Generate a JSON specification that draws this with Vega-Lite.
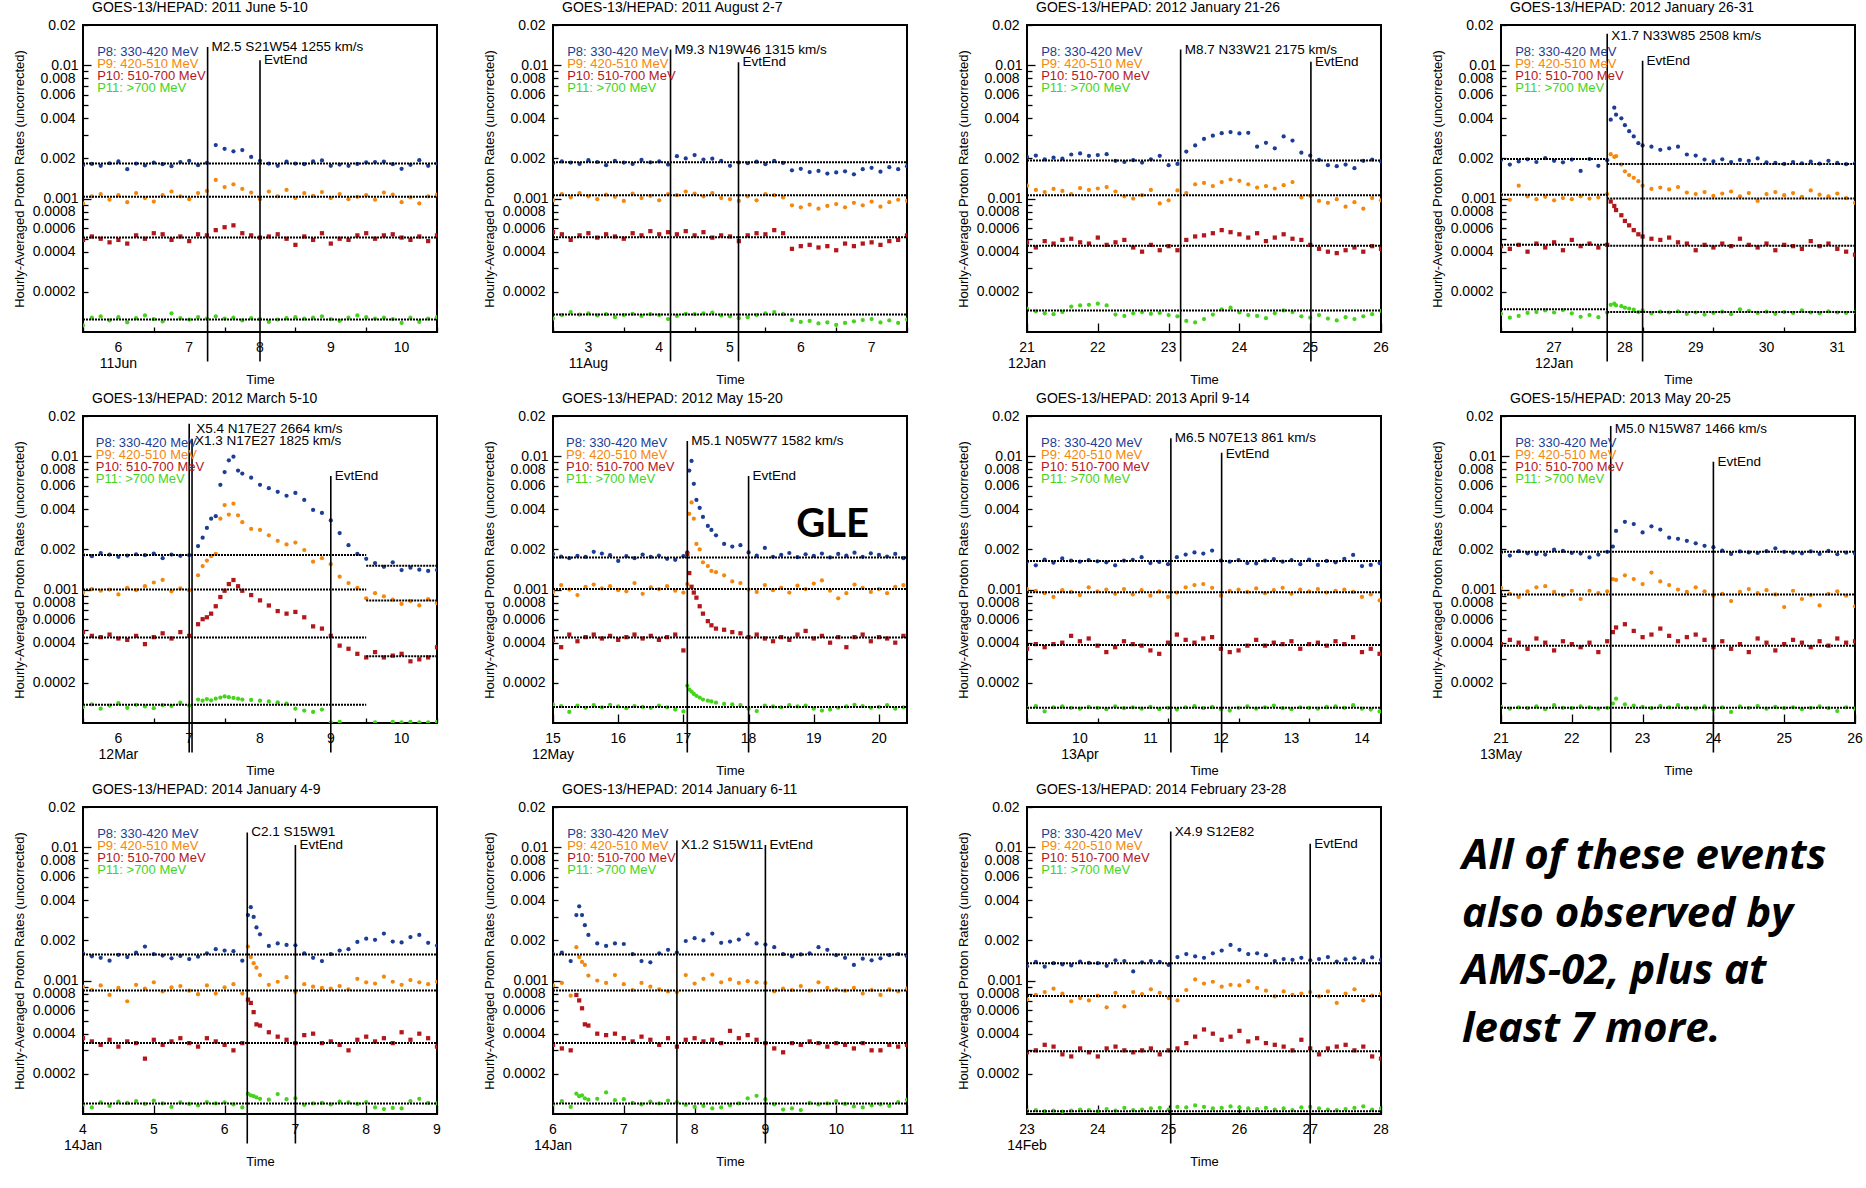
{
"$schema": "https://vega.github.io/schema/vega-lite/v6.json",
"padding": {"left": 12, "top": 0, "right": 0, "bottom": 0},
"background": "white",
"columns": 4,
"spacing": {"row": 3, "column": 40},
"datasets": {
"leg": [{"s":"P8","lab":"P8: 330-420 MeV"},{"s":"P9","lab":"P9: 420-510 MeV"},{"s":"P10","lab":"P10: 510-700 MeV"},{"s":"P11","lab":"P11: >700 MeV"}],
"xl": [
{"p":1,"t":6,"d":"6","m":"11Jun"},{"p":1,"t":7,"d":"7","m":""},{"p":1,"t":8,"d":"8","m":""},{"p":1,"t":9,"d":"9","m":""},{"p":1,"t":10,"d":"10","m":""},
{"p":2,"t":3,"d":"3","m":"11Aug"},{"p":2,"t":4,"d":"4","m":""},{"p":2,"t":5,"d":"5","m":""},{"p":2,"t":6,"d":"6","m":""},{"p":2,"t":7,"d":"7","m":""},
{"p":3,"t":21,"d":"21","m":"12Jan"},{"p":3,"t":22,"d":"22","m":""},{"p":3,"t":23,"d":"23","m":""},{"p":3,"t":24,"d":"24","m":""},{"p":3,"t":25,"d":"25","m":""},{"p":3,"t":26,"d":"26","m":""},
{"p":4,"t":27,"d":"27","m":"12Jan"},{"p":4,"t":28,"d":"28","m":""},{"p":4,"t":29,"d":"29","m":""},{"p":4,"t":30,"d":"30","m":""},{"p":4,"t":31,"d":"31","m":""},
{"p":5,"t":6,"d":"6","m":"12Mar"},{"p":5,"t":7,"d":"7","m":""},{"p":5,"t":8,"d":"8","m":""},{"p":5,"t":9,"d":"9","m":""},{"p":5,"t":10,"d":"10","m":""},
{"p":6,"t":15,"d":"15","m":"12May"},{"p":6,"t":16,"d":"16","m":""},{"p":6,"t":17,"d":"17","m":""},{"p":6,"t":18,"d":"18","m":""},{"p":6,"t":19,"d":"19","m":""},{"p":6,"t":20,"d":"20","m":""},
{"p":7,"t":10,"d":"10","m":"13Apr"},{"p":7,"t":11,"d":"11","m":""},{"p":7,"t":12,"d":"12","m":""},{"p":7,"t":13,"d":"13","m":""},{"p":7,"t":14,"d":"14","m":""},
{"p":8,"t":21,"d":"21","m":"13May"},{"p":8,"t":22,"d":"22","m":""},{"p":8,"t":23,"d":"23","m":""},{"p":8,"t":24,"d":"24","m":""},{"p":8,"t":25,"d":"25","m":""},{"p":8,"t":26,"d":"26","m":""},
{"p":9,"t":4,"d":"4","m":"14Jan"},{"p":9,"t":5,"d":"5","m":""},{"p":9,"t":6,"d":"6","m":""},{"p":9,"t":7,"d":"7","m":""},{"p":9,"t":8,"d":"8","m":""},{"p":9,"t":9,"d":"9","m":""},
{"p":10,"t":6,"d":"6","m":"14Jan"},{"p":10,"t":7,"d":"7","m":""},{"p":10,"t":8,"d":"8","m":""},{"p":10,"t":9,"d":"9","m":""},{"p":10,"t":10,"d":"10","m":""},{"p":10,"t":11,"d":"11","m":""},
{"p":11,"t":23,"d":"23","m":"14Feb"},{"p":11,"t":24,"d":"24","m":""},{"p":11,"t":25,"d":"25","m":""},{"p":11,"t":26,"d":"26","m":""},{"p":11,"t":27,"d":"27","m":""},{"p":11,"t":28,"d":"28","m":""}],
"ev": [{"p":1,"k":"s","t":7.26,"lab":"M2.5 S21W54 1255 km/s"},{"p":1,"k":"e","t":8.0,"lab":"EvtEnd"},
{"p":2,"k":"s","t":4.16,"lab":"M9.3 N19W46 1315 km/s"},{"p":2,"k":"e","t":5.12,"lab":"EvtEnd"},
{"p":3,"k":"s","t":23.17,"lab":"M8.7 N33W21 2175 km/s"},{"p":3,"k":"e","t":25.01,"lab":"EvtEnd"},
{"p":4,"k":"s","t":27.75,"lab":"X1.7 N33W85 2508 km/s"},{"p":4,"k":"e","t":28.25,"lab":"EvtEnd"},
{"p":5,"k":"s","t":7.0,"lab":"X5.4 N17E27 2664 km/s"},{"p":5,"k":"s2","t":7.04,"lab":"X1.3 N17E27 1825 km/s"},{"p":5,"k":"e","t":9.0,"lab":"EvtEnd"},
{"p":6,"k":"s","t":17.06,"lab":"M5.1 N05W77  1582 km/s"},{"p":6,"k":"e","t":18.0,"lab":"EvtEnd"},
{"p":7,"k":"s","t":11.29,"lab":"M6.5 N07E13  861 km/s"},{"p":7,"k":"e","t":12.01,"lab":"EvtEnd"},
{"p":8,"k":"s","t":22.55,"lab":"M5.0 N15W87 1466 km/s"},{"p":8,"k":"e","t":24.0,"lab":"EvtEnd"},
{"p":9,"k":"s","t":6.32,"lab":"C2.1 S15W91"},{"p":9,"k":"e","t":7.0,"lab":"EvtEnd"},
{"p":10,"k":"s","t":7.75,"lab":"X1.2 S15W11"},{"p":10,"k":"e","t":9.0,"lab":"EvtEnd"},
{"p":11,"k":"s","t":25.03,"lab":"X4.9 S12E82"},{"p":11,"k":"e","t":27.0,"lab":"EvtEnd"}],
"base": [
{"p":1,"t0":5.5,"t1":10.5,"v":0.00183},{"p":1,"t0":5.5,"t1":10.5,"v":0.00103},{"p":1,"t0":5.5,"t1":10.5,"v":0.00051},{"p":1,"t0":5.5,"t1":10.5,"v":0.000124},
{"p":2,"t0":2.5,"t1":7.5,"v":0.00187},{"p":2,"t0":2.5,"t1":7.5,"v":0.00106},{"p":2,"t0":2.5,"t1":7.5,"v":0.000514},{"p":2,"t0":2.5,"t1":7.5,"v":0.000135},
{"p":3,"t0":21,"t1":26,"v":0.00193},{"p":3,"t0":21,"t1":26,"v":0.00106},{"p":3,"t0":21,"t1":26,"v":0.000444},{"p":3,"t0":21,"t1":26,"v":0.000145},
{"p":4,"t0":26.25,"t1":27.75,"v":0.00198},{"p":4,"t0":26.25,"t1":27.75,"v":0.00107},{"p":4,"t0":26.25,"t1":27.75,"v":0.00045},{"p":4,"t0":26.25,"t1":27.75,"v":0.000148},
{"p":4,"t0":27.75,"t1":31.25,"v":0.00182},{"p":4,"t0":27.75,"t1":31.25,"v":0.001},{"p":4,"t0":27.75,"t1":31.25,"v":0.000443},{"p":4,"t0":27.75,"t1":31.25,"v":0.000141},
{"p":5,"t0":5.5,"t1":9.5,"v":0.00182},{"p":5,"t0":5.5,"t1":9.5,"v":0.001},{"p":5,"t0":5.5,"t1":9.5,"v":0.000437},{"p":5,"t0":5.5,"t1":9.5,"v":0.000137},
{"p":5,"t0":9.5,"t1":10.5,"v":0.00151},{"p":5,"t0":9.5,"t1":10.5,"v":0.000828},{"p":5,"t0":9.5,"t1":10.5,"v":0.000316},
{"p":6,"t0":15,"t1":20.43,"v":0.00174},{"p":6,"t0":15,"t1":20.43,"v":0.00101},{"p":6,"t0":15,"t1":20.43,"v":0.000437},{"p":6,"t0":15,"t1":20.43,"v":0.000132},
{"p":7,"t0":9.25,"t1":14.27,"v":0.00164},{"p":7,"t0":9.25,"t1":14.27,"v":0.000955},{"p":7,"t0":9.25,"t1":14.27,"v":0.000384},{"p":7,"t0":9.25,"t1":14.27,"v":0.00013},
{"p":8,"t0":21,"t1":26,"v":0.00192},{"p":8,"t0":21,"t1":26,"v":0.00092},{"p":8,"t0":21,"t1":26,"v":0.00038},{"p":8,"t0":21,"t1":26,"v":0.00013},
{"p":9,"t0":4,"t1":9,"v":0.00157},{"p":9,"t0":4,"t1":9,"v":0.000842},{"p":9,"t0":4,"t1":9,"v":0.000341},{"p":9,"t0":4,"t1":9,"v":0.00012},
{"p":10,"t0":6,"t1":11,"v":0.00157},{"p":10,"t0":6,"t1":11,"v":0.000842},{"p":10,"t0":6,"t1":11,"v":0.000341},{"p":10,"t0":6,"t1":11,"v":0.00012},
{"p":11,"t0":23,"t1":28,"v":0.00135},{"p":11,"t0":23,"t1":28,"v":0.000765},{"p":11,"t0":23,"t1":28,"v":0.000295},{"p":11,"t0":23,"t1":28,"v":0.000105}],
"pts": [
{"p":1,"t":5.5,"P8":0.00178,"P9":0.00092,"P10":0.00049,"P11":0.000112},
{"p":1,"t":5.625,"P8":0.00182,"P9":0.00104,"P10":0.00052,"P11":0.000128},
{"p":1,"t":5.75,"P8":0.00176,"P9":0.00108,"P10":0.0005,"P11":0.000131},
{"p":1,"t":5.875,"P8":0.00184,"P9":0.00098,"P10":0.00047,"P11":0.000122},
{"p":1,"t":6,"P8":0.0019,"P9":0.00106,"P10":0.00049,"P11":0.000129},
{"p":1,"t":6.125,"P8":0.00166,"P9":0.00094,"P10":0.00046,"P11":0.000118},
{"p":1,"t":6.25,"P8":0.00183,"P9":0.0011,"P10":0.00053,"P11":0.000127},
{"p":1,"t":6.375,"P8":0.00177,"P9":0.00101,"P10":0.0005,"P11":0.000133},
{"p":1,"t":6.5,"P8":0.00186,"P9":0.00095,"P10":0.00055,"P11":0.000125},
{"p":1,"t":6.625,"P8":0.00181,"P9":0.00106,"P10":0.00054,"P11":0.00012},
{"p":1,"t":6.75,"P8":0.00175,"P9":0.00113,"P10":0.00049,"P11":0.000138},
{"p":1,"t":6.875,"P8":0.00188,"P9":0.00104,"P10":0.00052,"P11":0.000127},
{"p":1,"t":7,"P8":0.00192,"P9":0.00099,"P10":0.00048,"P11":0.000124},
{"p":1,"t":7.125,"P8":0.00178,"P9":0.0011,"P10":0.00054,"P11":0.000129},
{"p":1,"t":7.25,"P8":0.00185,"P9":0.00114,"P10":0.00053,"P11":0.000126},
{"p":1,"t":7.375,"P8":0.00252,"P9":0.00138,"P10":0.00058,"P11":0.000131},
{"p":1,"t":7.5,"P8":0.00236,"P9":0.00122,"P10":0.00061,"P11":0.000126},
{"p":1,"t":7.625,"P8":0.00226,"P9":0.00128,"P10":0.00063,"P11":0.000128},
{"p":1,"t":7.75,"P8":0.00231,"P9":0.00118,"P10":0.00055,"P11":0.000122},
{"p":1,"t":7.875,"P8":0.00205,"P9":0.00111,"P10":0.00053,"P11":0.000127},
{"p":1,"t":8,"P8":0.00192,"P9":0.00099,"P10":0.00051,"P11":0.000125},
{"p":1,"t":8.125,"P8":0.00183,"P9":0.00113,"P10":0.00052,"P11":0.000119},
{"p":1,"t":8.25,"P8":0.00176,"P9":0.00104,"P10":0.00054,"P11":0.000124},
{"p":1,"t":8.375,"P8":0.00189,"P9":0.00116,"P10":0.0005,"P11":0.000127},
{"p":1,"t":8.5,"P8":0.00183,"P9":0.00101,"P10":0.00045,"P11":0.000129},
{"p":1,"t":8.625,"P8":0.00181,"P9":0.0011,"P10":0.00052,"P11":0.000126},
{"p":1,"t":8.75,"P8":0.0019,"P9":0.00105,"P10":0.00049,"P11":0.000128},
{"p":1,"t":8.875,"P8":0.00193,"P9":0.00112,"P10":0.00055,"P11":0.000131},
{"p":1,"t":9,"P8":0.00176,"P9":0.00101,"P10":0.00046,"P11":0.000125},
{"p":1,"t":9.125,"P8":0.0018,"P9":0.00108,"P10":0.0005,"P11":0.000121},
{"p":1,"t":9.25,"P8":0.00176,"P9":0.00099,"P10":0.00049,"P11":0.000128},
{"p":1,"t":9.375,"P8":0.00182,"P9":0.00103,"P10":0.00053,"P11":0.000133},
{"p":1,"t":9.5,"P8":0.00187,"P9":0.00106,"P10":0.00055,"P11":0.000129},
{"p":1,"t":9.625,"P8":0.00188,"P9":0.00098,"P10":0.0005,"P11":0.000126},
{"p":1,"t":9.75,"P8":0.00189,"P9":0.00111,"P10":0.00053,"P11":0.000128},
{"p":1,"t":9.875,"P8":0.00181,"P9":0.00107,"P10":0.00054,"P11":0.000125},
{"p":1,"t":10,"P8":0.00167,"P9":0.00094,"P10":0.00051,"P11":0.000117},
{"p":1,"t":10.125,"P8":0.00179,"P9":0.00102,"P10":0.00049,"P11":0.000128},
{"p":1,"t":10.25,"P8":0.00194,"P9":0.00092,"P10":0.00052,"P11":0.000119},
{"p":1,"t":10.375,"P8":0.00176,"P9":0.00104,"P10":0.00048,"P11":0.000126},
{"p":1,"t":10.5,"P8":0.00183,"P9":0.00107,"P10":0.00053,"P11":0.000129},
{"p":2,"t":2.5,"P8":0.00184,"P9":0.00097,"P10":0.00056,"P11":0.000126},
{"p":2,"t":2.625,"P8":0.0019,"P9":0.00108,"P10":0.00054,"P11":0.000134},
{"p":2,"t":2.75,"P8":0.00186,"P9":0.00102,"P10":0.00049,"P11":0.000141},
{"p":2,"t":2.875,"P8":0.00182,"P9":0.0011,"P10":0.00053,"P11":0.000135},
{"p":2,"t":3,"P8":0.00194,"P9":0.00104,"P10":0.00055,"P11":0.000138},
{"p":2,"t":3.125,"P8":0.00188,"P9":0.00099,"P10":0.00051,"P11":0.000133},
{"p":2,"t":3.25,"P8":0.00178,"P9":0.00107,"P10":0.00054,"P11":0.000136},
{"p":2,"t":3.375,"P8":0.00192,"P9":0.00103,"P10":0.00052,"P11":0.000129},
{"p":2,"t":3.5,"P8":0.00186,"P9":0.00096,"P10":0.0005,"P11":0.000134},
{"p":2,"t":3.625,"P8":0.00182,"P9":0.00109,"P10":0.00055,"P11":0.000137},
{"p":2,"t":3.75,"P8":0.00195,"P9":0.00101,"P10":0.00053,"P11":0.000132},
{"p":2,"t":3.875,"P8":0.00187,"P9":0.00105,"P10":0.00057,"P11":0.000136},
{"p":2,"t":4,"P8":0.0019,"P9":0.00097,"P10":0.00054,"P11":0.000134},
{"p":2,"t":4.125,"P8":0.0018,"P9":0.00108,"P10":0.00056,"P11":0.000125},
{"p":2,"t":4.25,"P8":0.00208,"P9":0.00106,"P10":0.00054,"P11":0.000132},
{"p":2,"t":4.375,"P8":0.002,"P9":0.00113,"P10":0.00057,"P11":0.000137},
{"p":2,"t":4.5,"P8":0.00212,"P9":0.00109,"P10":0.00053,"P11":0.000136},
{"p":2,"t":4.625,"P8":0.00196,"P9":0.00104,"P10":0.00056,"P11":0.000138},
{"p":2,"t":4.75,"P8":0.00199,"P9":0.0011,"P10":0.00051,"P11":0.00014},
{"p":2,"t":4.875,"P8":0.00192,"P9":0.00101,"P10":0.00053,"P11":0.000133},
{"p":2,"t":5,"P8":0.00176,"P9":0.00099,"P10":0.00052,"P11":0.000131},
{"p":2,"t":5.125,"P8":0.00186,"P9":0.00096,"P10":0.00048,"P11":0.000127},
{"p":2,"t":5.25,"P8":0.00184,"P9":0.00104,"P10":0.00053,"P11":0.000129},
{"p":2,"t":5.375,"P8":0.00189,"P9":0.00097,"P10":0.00055,"P11":0.000134},
{"p":2,"t":5.5,"P8":0.00181,"P9":0.00108,"P10":0.00054,"P11":0.000138},
{"p":2,"t":5.625,"P8":0.00192,"P9":0.00106,"P10":0.00058,"P11":0.000141},
{"p":2,"t":5.75,"P8":0.00185,"P9":0.00102,"P10":0.00055,"P11":0.000136},
{"p":2,"t":5.875,"P8":0.00163,"P9":0.00089,"P10":0.00042,"P11":0.000123},
{"p":2,"t":6,"P8":0.00167,"P9":0.00086,"P10":0.00044,"P11":0.000119},
{"p":2,"t":6.125,"P8":0.00158,"P9":0.0009,"P10":0.00045,"P11":0.000121},
{"p":2,"t":6.25,"P8":0.00161,"P9":0.00084,"P10":0.00043,"P11":0.000116},
{"p":2,"t":6.375,"P8":0.00154,"P9":0.00088,"P10":0.00044,"P11":0.000118},
{"p":2,"t":6.5,"P8":0.00157,"P9":0.00091,"P10":0.00041,"P11":0.000113},
{"p":2,"t":6.625,"P8":0.0016,"P9":0.00086,"P10":0.00046,"P11":0.000117},
{"p":2,"t":6.75,"P8":0.00152,"P9":0.00093,"P10":0.00044,"P11":0.00012},
{"p":2,"t":6.875,"P8":0.00166,"P9":0.00089,"P10":0.00046,"P11":0.000123},
{"p":2,"t":7,"P8":0.0017,"P9":0.00095,"P10":0.00047,"P11":0.000125},
{"p":2,"t":7.125,"P8":0.00159,"P9":0.00087,"P10":0.00045,"P11":0.000118},
{"p":2,"t":7.25,"P8":0.00172,"P9":0.00094,"P10":0.00048,"P11":0.000122},
{"p":2,"t":7.375,"P8":0.00166,"P9":0.00098,"P10":0.00049,"P11":0.000117},
{"p":2,"t":7.5,"P8":0.00175,"P9":0.00096,"P10":0.00053,"P11":0.000124},
{"p":3,"t":21,"P8":0.00205,"P9":0.00125,"P10":0.00047,"P11":0.00015},
{"p":3,"t":21.125,"P8":0.0021,"P9":0.00116,"P10":0.00043,"P11":0.000143},
{"p":3,"t":21.25,"P8":0.00197,"P9":0.00112,"P10":0.00048,"P11":0.000138},
{"p":3,"t":21.375,"P8":0.00203,"P9":0.00118,"P10":0.00046,"P11":0.000136},
{"p":3,"t":21.5,"P8":0.00199,"P9":0.00114,"P10":0.00049,"P11":0.000141},
{"p":3,"t":21.625,"P8":0.00214,"P9":0.00108,"P10":0.0005,"P11":0.000155},
{"p":3,"t":21.75,"P8":0.00218,"P9":0.0012,"P10":0.00047,"P11":0.000158},
{"p":3,"t":21.875,"P8":0.00209,"P9":0.00116,"P10":0.00046,"P11":0.00016},
{"p":3,"t":22,"P8":0.00212,"P9":0.00119,"P10":0.00051,"P11":0.000163},
{"p":3,"t":22.125,"P8":0.00215,"P9":0.00122,"P10":0.00045,"P11":0.000158},
{"p":3,"t":22.25,"P8":0.00192,"P9":0.00113,"P10":0.00047,"P11":0.000135},
{"p":3,"t":22.375,"P8":0.00188,"P9":0.00104,"P10":0.00049,"P11":0.000132},
{"p":3,"t":22.5,"P8":0.00194,"P9":0.001,"P10":0.00043,"P11":0.000138},
{"p":3,"t":22.625,"P8":0.00186,"P9":0.00106,"P10":0.0004,"P11":0.000141},
{"p":3,"t":22.75,"P8":0.00197,"P9":0.00116,"P10":0.00045,"P11":0.000137},
{"p":3,"t":22.875,"P8":0.00209,"P9":0.00092,"P10":0.00041,"P11":0.000139},
{"p":3,"t":23,"P8":0.00178,"P9":0.00097,"P10":0.00044,"P11":0.000134},
{"p":3,"t":23.125,"P8":0.00182,"P9":0.00115,"P10":0.00041,"P11":0.000131},
{"p":3,"t":23.25,"P8":0.00225,"P9":0.0011,"P10":0.00049,"P11":0.000121},
{"p":3,"t":23.375,"P8":0.0025,"P9":0.00128,"P10":0.00052,"P11":0.000118},
{"p":3,"t":23.5,"P8":0.0028,"P9":0.00131,"P10":0.00053,"P11":0.000125},
{"p":3,"t":23.625,"P8":0.00296,"P9":0.00124,"P10":0.00055,"P11":0.000135},
{"p":3,"t":23.75,"P8":0.00309,"P9":0.00133,"P10":0.00058,"P11":0.000148},
{"p":3,"t":23.875,"P8":0.00315,"P9":0.00139,"P10":0.00056,"P11":0.000152},
{"p":3,"t":24,"P8":0.00308,"P9":0.00136,"P10":0.00054,"P11":0.00014},
{"p":3,"t":24.125,"P8":0.00311,"P9":0.00128,"P10":0.00051,"P11":0.000134},
{"p":3,"t":24.25,"P8":0.00245,"P9":0.00121,"P10":0.00055,"P11":0.000132},
{"p":3,"t":24.375,"P8":0.00262,"P9":0.00124,"P10":0.00048,"P11":0.000127},
{"p":3,"t":24.5,"P8":0.00238,"P9":0.00119,"P10":0.00051,"P11":0.000138},
{"p":3,"t":24.625,"P8":0.00292,"P9":0.00126,"P10":0.00054,"P11":0.000145},
{"p":3,"t":24.75,"P8":0.00272,"P9":0.00133,"P10":0.0005,"P11":0.000141},
{"p":3,"t":24.875,"P8":0.00221,"P9":0.00102,"P10":0.00049,"P11":0.000131},
{"p":3,"t":25,"P8":0.0021,"P9":0.00105,"P10":0.00045,"P11":0.000128},
{"p":3,"t":25.125,"P8":0.00195,"P9":0.00096,"P10":0.00042,"P11":0.000134},
{"p":3,"t":25.25,"P8":0.00178,"P9":0.00093,"P10":0.0004,"P11":0.000126},
{"p":3,"t":25.375,"P8":0.00175,"P9":0.00099,"P10":0.00039,"P11":0.000122},
{"p":3,"t":25.5,"P8":0.0018,"P9":0.00087,"P10":0.00041,"P11":0.000129},
{"p":3,"t":25.625,"P8":0.00169,"P9":0.00094,"P10":0.00043,"P11":0.000125},
{"p":3,"t":25.75,"P8":0.00192,"P9":0.00084,"P10":0.0004,"P11":0.000131},
{"p":3,"t":25.875,"P8":0.00196,"P9":0.00101,"P10":0.00044,"P11":0.000136},
{"p":3,"t":26,"P8":0.0019,"P9":0.00097,"P10":0.00042,"P11":0.000144},
{"p":4,"t":26.25,"P8":0.00195,"P9":0.00107,"P10":0.00044,"P11":0.000137},
{"p":4,"t":26.375,"P8":0.0018,"P9":0.00098,"P10":0.00042,"P11":0.000128},
{"p":4,"t":26.5,"P8":0.0019,"P9":0.00125,"P10":0.00045,"P11":0.000132},
{"p":4,"t":26.625,"P8":0.00197,"P9":0.00104,"P10":0.0004,"P11":0.000139},
{"p":4,"t":26.75,"P8":0.00188,"P9":0.00099,"P10":0.00046,"P11":0.000141},
{"p":4,"t":26.875,"P8":0.00201,"P9":0.00103,"P10":0.00043,"P11":0.000145},
{"p":4,"t":27,"P8":0.00192,"P9":0.00097,"P10":0.00047,"P11":0.00014},
{"p":4,"t":27.125,"P8":0.00187,"P9":0.00101,"P10":0.00041,"P11":0.000146},
{"p":4,"t":27.25,"P8":0.00196,"P9":0.00099,"P10":0.00049,"P11":0.000138},
{"p":4,"t":27.375,"P8":0.00161,"P9":0.00104,"P10":0.00044,"P11":0.00013},
{"p":4,"t":27.5,"P8":0.00198,"P9":0.001,"P10":0.00046,"P11":0.000134},
{"p":4,"t":27.625,"P8":0.00176,"P9":0.00102,"P10":0.00043,"P11":0.000129},
{"p":4,"t":27.75,"P8":0.00194,"P9":0.00108,"P10":0.00045,"P11":0.00014},
{"p":4,"t":27.8,"P8":0.0039,"P9":0.00215,"P10":0.00095,"P11":0.00016},
{"p":4,"t":27.85,"P8":0.0048,"P9":0.00205,"P10":0.00088,"P11":0.000163},
{"p":4,"t":27.875,"P8":0.00425,"P9":0.00208,"P10":0.00082,"P11":0.000158},
{"p":4,"t":27.95,"P8":0.004,"P9":0.0018,"P10":0.00075,"P11":0.000156},
{"p":4,"t":28,"P8":0.00355,"P9":0.0016,"P10":0.00068,"P11":0.000152},
{"p":4,"t":28.06,"P8":0.0032,"P9":0.0015,"P10":0.00063,"P11":0.00015},
{"p":4,"t":28.125,"P8":0.00292,"P9":0.00143,"P10":0.00058,"P11":0.000147},
{"p":4,"t":28.19,"P8":0.0026,"P9":0.00135,"P10":0.00054,"P11":0.000141},
{"p":4,"t":28.25,"P8":0.0025,"P9":0.00125,"P10":0.00052,"P11":0.000145},
{"p":4,"t":28.375,"P8":0.00245,"P9":0.00118,"P10":0.0005,"P11":0.000138},
{"p":4,"t":28.5,"P8":0.00232,"P9":0.00121,"P10":0.00049,"P11":0.000142},
{"p":4,"t":28.625,"P8":0.00238,"P9":0.00117,"P10":0.00051,"P11":0.00014},
{"p":4,"t":28.75,"P8":0.00245,"P9":0.00122,"P10":0.00047,"P11":0.000143},
{"p":4,"t":28.875,"P8":0.00214,"P9":0.00111,"P10":0.00046,"P11":0.000137},
{"p":4,"t":29,"P8":0.0021,"P9":0.00108,"P10":0.00041,"P11":0.00014},
{"p":4,"t":29.125,"P8":0.00196,"P9":0.00112,"P10":0.00045,"P11":0.000135},
{"p":4,"t":29.25,"P8":0.0019,"P9":0.00105,"P10":0.00043,"P11":0.000139},
{"p":4,"t":29.375,"P8":0.00197,"P9":0.00109,"P10":0.00046,"P11":0.000142},
{"p":4,"t":29.5,"P8":0.00188,"P9":0.00113,"P10":0.00044,"P11":0.000136},
{"p":4,"t":29.625,"P8":0.00195,"P9":0.00104,"P10":0.0005,"P11":0.000148},
{"p":4,"t":29.75,"P8":0.00192,"P9":0.0011,"P10":0.00045,"P11":0.000144},
{"p":4,"t":29.875,"P8":0.002,"P9":0.00096,"P10":0.00043,"P11":0.000139},
{"p":4,"t":30,"P8":0.00187,"P9":0.00108,"P10":0.00046,"P11":0.000142},
{"p":4,"t":30.125,"P8":0.00185,"P9":0.00112,"P10":0.00041,"P11":0.000137},
{"p":4,"t":30.25,"P8":0.00182,"P9":0.00106,"P10":0.00045,"P11":0.000141},
{"p":4,"t":30.375,"P8":0.00188,"P9":0.0011,"P10":0.00044,"P11":0.000139},
{"p":4,"t":30.5,"P8":0.00184,"P9":0.00103,"P10":0.00042,"P11":0.000145},
{"p":4,"t":30.625,"P8":0.00189,"P9":0.00115,"P10":0.00048,"P11":0.00014},
{"p":4,"t":30.75,"P8":0.00183,"P9":0.00107,"P10":0.00044,"P11":0.000138},
{"p":4,"t":30.875,"P8":0.00192,"P9":0.00104,"P10":0.00046,"P11":0.000143},
{"p":4,"t":31,"P8":0.00185,"P9":0.00109,"P10":0.00042,"P11":0.00014},
{"p":4,"t":31.125,"P8":0.00181,"P9":0.00101,"P10":0.0004,"P11":0.000139},
{"p":4,"t":31.25,"P8":0.00184,"P9":0.00093,"P10":0.00038,"P11":0.000141},
{"p":5,"t":5.5,"P8":0.00182,"P9":0.00095,"P10":0.00048,"P11":0.000132},
{"p":5,"t":5.625,"P8":0.00178,"P9":0.00101,"P10":0.00045,"P11":0.000138},
{"p":5,"t":5.75,"P8":0.00188,"P9":0.00098,"P10":0.00044,"P11":0.000128},
{"p":5,"t":5.875,"P8":0.00183,"P9":0.001,"P10":0.00046,"P11":0.000135},
{"p":5,"t":6,"P8":0.00176,"P9":0.00092,"P10":0.00043,"P11":0.000141},
{"p":5,"t":6.125,"P8":0.0018,"P9":0.00103,"P10":0.00042,"P11":0.00013},
{"p":5,"t":6.25,"P8":0.00184,"P9":0.00099,"P10":0.00045,"P11":0.000137},
{"p":5,"t":6.375,"P8":0.00181,"P9":0.00106,"P10":0.00039,"P11":0.000133},
{"p":5,"t":6.5,"P8":0.00186,"P9":0.00113,"P10":0.00044,"P11":0.000129},
{"p":5,"t":6.625,"P8":0.00172,"P9":0.00118,"P10":0.00047,"P11":0.000136},
{"p":5,"t":6.75,"P8":0.00183,"P9":0.00097,"P10":0.00043,"P11":0.000134},
{"p":5,"t":6.875,"P8":0.00179,"P9":0.00102,"P10":0.00048,"P11":0.000142},
{"p":5,"t":7,"P8":0.00181,"P9":0.00099,"P10":0.00045,"P11":0.000135},
{"p":5,"t":7.125,"P8":0.00212,"P9":0.00128,"P10":0.00055,"P11":0.00015},
{"p":5,"t":7.19,"P8":0.00245,"P9":0.0015,"P10":0.0006,"P11":0.000147},
{"p":5,"t":7.25,"P8":0.0029,"P9":0.00165,"P10":0.00062,"P11":0.000151},
{"p":5,"t":7.31,"P8":0.0034,"P9":0.00178,"P10":0.00066,"P11":0.000148},
{"p":5,"t":7.375,"P8":0.00355,"P9":0.00185,"P10":0.00075,"P11":0.000152},
{"p":5,"t":7.44,"P8":0.0061,"P9":0.0034,"P10":0.00088,"P11":0.000155},
{"p":5,"t":7.5,"P8":0.0076,"P9":0.0043,"P10":0.00098,"P11":0.000158},
{"p":5,"t":7.56,"P8":0.0093,"P9":0.00365,"P10":0.0011,"P11":0.000156},
{"p":5,"t":7.625,"P8":0.0099,"P9":0.0044,"P10":0.00118,"P11":0.000154},
{"p":5,"t":7.69,"P8":0.0078,"P9":0.0036,"P10":0.00106,"P11":0.000152},
{"p":5,"t":7.75,"P8":0.0074,"P9":0.0032,"P10":0.00098,"P11":0.00015},
{"p":5,"t":7.875,"P8":0.0069,"P9":0.00285,"P10":0.00091,"P11":0.000149},
{"p":5,"t":8,"P8":0.0061,"P9":0.0028,"P10":0.00083,"P11":0.000147},
{"p":5,"t":8.125,"P8":0.00575,"P9":0.00255,"P10":0.00076,"P11":0.000145},
{"p":5,"t":8.25,"P8":0.0054,"P9":0.00232,"P10":0.00069,"P11":0.000143},
{"p":5,"t":8.375,"P8":0.00505,"P9":0.00218,"P10":0.00066,"P11":0.00014},
{"p":5,"t":8.5,"P8":0.0053,"P9":0.00225,"P10":0.00068,"P11":0.000128},
{"p":5,"t":8.625,"P8":0.0047,"P9":0.00198,"P10":0.00062,"P11":0.000124},
{"p":5,"t":8.75,"P8":0.00395,"P9":0.00162,"P10":0.00053,"P11":0.000121},
{"p":5,"t":8.875,"P8":0.00375,"P9":0.00172,"P10":0.00051,"P11":0.000126},
{"p":5,"t":9,"P8":0.0033,"P9":0.00155,"P10":0.00045,"P11":0.000101},
{"p":5,"t":9.125,"P8":0.00265,"P9":0.00125,"P10":0.00038,"P11":0.000102},
{"p":5,"t":9.25,"P8":0.00215,"P9":0.00112,"P10":0.00036,"P11":0.000095},
{"p":5,"t":9.375,"P8":0.00185,"P9":0.00103,"P10":0.00033,"P11":0.000094},
{"p":5,"t":9.5,"P8":0.0017,"P9":0.00086,"P10":0.00031,"P11":0.000096},
{"p":5,"t":9.625,"P8":0.00158,"P9":0.00094,"P10":0.00034,"P11":0.000101},
{"p":5,"t":9.75,"P8":0.00148,"P9":0.00089,"P10":0.00031,"P11":0.000095},
{"p":5,"t":9.875,"P8":0.0016,"P9":0.00084,"P10":0.00032,"P11":0.000102},
{"p":5,"t":10,"P8":0.0014,"P9":0.00078,"P10":0.00033,"P11":0.000101},
{"p":5,"t":10.125,"P8":0.00146,"P9":0.00082,"P10":0.00029,"P11":0.000102},
{"p":5,"t":10.25,"P8":0.00141,"P9":0.00076,"P10":0.0003,"P11":0.000101},
{"p":5,"t":10.375,"P8":0.00138,"P9":0.00085,"P10":0.00031,"P11":0.000101},
{"p":5,"t":10.5,"P8":0.0014,"P9":0.00079,"P10":0.00037,"P11":0.000102},
{"p":6,"t":15,"P8":0.00185,"P9":0.00096,"P10":0.00042,"P11":0.000138},
{"p":6,"t":15.125,"P8":0.00177,"P9":0.00108,"P10":0.00037,"P11":0.000134},
{"p":6,"t":15.25,"P8":0.00172,"P9":0.001,"P10":0.00046,"P11":0.000121},
{"p":6,"t":15.375,"P8":0.00179,"P9":0.00091,"P10":0.00041,"P11":0.000135},
{"p":6,"t":15.5,"P8":0.00176,"P9":0.00105,"P10":0.00044,"P11":0.00013},
{"p":6,"t":15.625,"P8":0.00192,"P9":0.00109,"P10":0.00046,"P11":0.000136},
{"p":6,"t":15.75,"P8":0.00186,"P9":0.00102,"P10":0.00043,"P11":0.000131},
{"p":6,"t":15.875,"P8":0.00181,"P9":0.00106,"P10":0.00045,"P11":0.000137},
{"p":6,"t":16,"P8":0.00164,"P9":0.00099,"P10":0.00042,"P11":0.000133},
{"p":6,"t":16.125,"P8":0.00178,"P9":0.00097,"P10":0.00044,"P11":0.000129},
{"p":6,"t":16.25,"P8":0.00172,"P9":0.00112,"P10":0.00046,"P11":0.000134},
{"p":6,"t":16.375,"P8":0.00183,"P9":0.00093,"P10":0.00043,"P11":0.000132},
{"p":6,"t":16.5,"P8":0.00176,"P9":0.00104,"P10":0.00045,"P11":0.00013},
{"p":6,"t":16.625,"P8":0.0018,"P9":0.00101,"P10":0.00042,"P11":0.000135},
{"p":6,"t":16.75,"P8":0.0017,"P9":0.00106,"P10":0.00044,"P11":0.000131},
{"p":6,"t":16.875,"P8":0.00167,"P9":0.00098,"P10":0.00046,"P11":0.000126},
{"p":6,"t":17,"P8":0.00178,"P9":0.00095,"P10":0.00035,"P11":0.000122},
{"p":6,"t":17.06,"P8":0.0019,"P9":0.0011,"P10":0.00185,"P11":0.00019},
{"p":6,"t":17.09,"P8":0.0078,"P9":0.0037,"P10":0.00133,"P11":0.000178},
{"p":6,"t":17.125,"P8":0.0092,"P9":0.0045,"P10":0.00105,"P11":0.000172},
{"p":6,"t":17.16,"P8":0.0062,"P9":0.0034,"P10":0.00095,"P11":0.000165},
{"p":6,"t":17.2,"P8":0.0047,"P9":0.0022,"P10":0.00087,"P11":0.00016},
{"p":6,"t":17.25,"P8":0.0041,"P9":0.002,"P10":0.00075,"P11":0.000155},
{"p":6,"t":17.3,"P8":0.0035,"P9":0.0016,"P10":0.00066,"P11":0.00015},
{"p":6,"t":17.375,"P8":0.003,"P9":0.0015,"P10":0.00058,"P11":0.000147},
{"p":6,"t":17.43,"P8":0.0028,"P9":0.00138,"P10":0.00054,"P11":0.000145},
{"p":6,"t":17.5,"P8":0.00255,"P9":0.00135,"P10":0.00051,"P11":0.000142},
{"p":6,"t":17.625,"P8":0.0022,"P9":0.00128,"P10":0.0005,"P11":0.000139},
{"p":6,"t":17.75,"P8":0.0021,"P9":0.00115,"P10":0.00048,"P11":0.000138},
{"p":6,"t":17.875,"P8":0.00215,"P9":0.00112,"P10":0.00047,"P11":0.000136},
{"p":6,"t":18,"P8":0.0019,"P9":0.001,"P10":0.00044,"P11":0.000128},
{"p":6,"t":18.125,"P8":0.0018,"P9":0.00096,"P10":0.00046,"P11":0.000123},
{"p":6,"t":18.25,"P8":0.00205,"P9":0.00108,"P10":0.00043,"P11":0.000135},
{"p":6,"t":18.375,"P8":0.00176,"P9":0.00099,"P10":0.00041,"P11":0.000133},
{"p":6,"t":18.5,"P8":0.00182,"P9":0.00103,"P10":0.00044,"P11":0.000131},
{"p":6,"t":18.625,"P8":0.00188,"P9":0.00095,"P10":0.00042,"P11":0.000136},
{"p":6,"t":18.75,"P8":0.00175,"P9":0.00107,"P10":0.00046,"P11":0.000133},
{"p":6,"t":18.875,"P8":0.00184,"P9":0.00101,"P10":0.00049,"P11":0.000135},
{"p":6,"t":19,"P8":0.00179,"P9":0.00111,"P10":0.00043,"P11":0.000128},
{"p":6,"t":19.125,"P8":0.00186,"P9":0.00117,"P10":0.00045,"P11":0.000124},
{"p":6,"t":19.25,"P8":0.00174,"P9":0.00098,"P10":0.0004,"P11":0.000126},
{"p":6,"t":19.375,"P8":0.00185,"P9":0.00086,"P10":0.00044,"P11":0.00013},
{"p":6,"t":19.5,"P8":0.0018,"P9":0.00094,"P10":0.00037,"P11":0.000133},
{"p":6,"t":19.625,"P8":0.00189,"P9":0.00109,"P10":0.00044,"P11":0.000137},
{"p":6,"t":19.75,"P8":0.00176,"P9":0.00103,"P10":0.00046,"P11":0.000134},
{"p":6,"t":19.875,"P8":0.00187,"P9":0.00096,"P10":0.00041,"P11":0.00013},
{"p":6,"t":20,"P8":0.00182,"P9":0.00101,"P10":0.00044,"P11":0.000132},
{"p":6,"t":20.125,"P8":0.00177,"P9":0.00094,"P10":0.00043,"P11":0.000136},
{"p":6,"t":20.25,"P8":0.00185,"P9":0.00105,"P10":0.0004,"P11":0.000128},
{"p":6,"t":20.375,"P8":0.00172,"P9":0.00108,"P10":0.00045,"P11":0.000131},
{"p":7,"t":9.25,"P8":0.00162,"P9":0.00101,"P10":0.00036,"P11":0.000129},
{"p":7,"t":9.375,"P8":0.00152,"P9":0.00098,"P10":0.00039,"P11":0.000134},
{"p":7,"t":9.5,"P8":0.00168,"P9":0.00094,"P10":0.00037,"P11":0.000122},
{"p":7,"t":9.625,"P8":0.00159,"P9":0.00088,"P10":0.00039,"P11":0.000131},
{"p":7,"t":9.75,"P8":0.00171,"P9":0.00099,"P10":0.0004,"P11":0.000133},
{"p":7,"t":9.875,"P8":0.00165,"P9":0.00096,"P10":0.00045,"P11":0.00013},
{"p":7,"t":10,"P8":0.00162,"P9":0.00091,"P10":0.00041,"P11":0.000128},
{"p":7,"t":10.125,"P8":0.00166,"P9":0.00104,"P10":0.00043,"P11":0.000132},
{"p":7,"t":10.25,"P8":0.00163,"P9":0.00097,"P10":0.00038,"P11":0.00013},
{"p":7,"t":10.375,"P8":0.0016,"P9":0.001,"P10":0.00034,"P11":0.000127},
{"p":7,"t":10.5,"P8":0.00152,"P9":0.00093,"P10":0.00037,"P11":0.000133},
{"p":7,"t":10.625,"P8":0.00165,"P9":0.00101,"P10":0.00041,"P11":0.000129},
{"p":7,"t":10.75,"P8":0.00167,"P9":0.00092,"P10":0.00039,"P11":0.000131},
{"p":7,"t":10.875,"P8":0.00175,"P9":0.00099,"P10":0.00038,"P11":0.000128},
{"p":7,"t":11,"P8":0.00158,"P9":0.0009,"P10":0.00035,"P11":0.000132},
{"p":7,"t":11.125,"P8":0.00161,"P9":0.00097,"P10":0.00033,"P11":0.000127},
{"p":7,"t":11.25,"P8":0.00155,"P9":0.00088,"P10":0.0004,"P11":0.00013},
{"p":7,"t":11.375,"P8":0.00175,"P9":0.00095,"P10":0.00046,"P11":0.000126},
{"p":7,"t":11.5,"P8":0.00183,"P9":0.00104,"P10":0.00042,"P11":0.000131},
{"p":7,"t":11.625,"P8":0.0019,"P9":0.00108,"P10":0.0004,"P11":0.000134},
{"p":7,"t":11.75,"P8":0.00186,"P9":0.0011,"P10":0.00043,"P11":0.000129},
{"p":7,"t":11.875,"P8":0.00196,"P9":0.00103,"P10":0.00044,"P11":0.000132},
{"p":7,"t":12,"P8":0.00165,"P9":0.0009,"P10":0.00036,"P11":0.000127},
{"p":7,"t":12.125,"P8":0.00162,"P9":0.00098,"P10":0.00034,"P11":0.000124},
{"p":7,"t":12.25,"P8":0.00166,"P9":0.001,"P10":0.00035,"P11":0.00013},
{"p":7,"t":12.375,"P8":0.00158,"P9":0.00096,"P10":0.00038,"P11":0.000133},
{"p":7,"t":12.5,"P8":0.00157,"P9":0.00102,"P10":0.00042,"P11":0.000128},
{"p":7,"t":12.625,"P8":0.00165,"P9":0.00094,"P10":0.00038,"P11":0.000131},
{"p":7,"t":12.75,"P8":0.00169,"P9":0.00099,"P10":0.0004,"P11":0.000135},
{"p":7,"t":12.875,"P8":0.00162,"P9":0.00103,"P10":0.00039,"P11":0.000129},
{"p":7,"t":13,"P8":0.00166,"P9":0.00093,"P10":0.00041,"P11":0.000127},
{"p":7,"t":13.125,"P8":0.00155,"P9":0.001,"P10":0.00036,"P11":0.000131},
{"p":7,"t":13.25,"P8":0.00168,"P9":0.00097,"P10":0.00039,"P11":0.00013},
{"p":7,"t":13.375,"P8":0.00153,"P9":0.00101,"P10":0.0004,"P11":0.000128},
{"p":7,"t":13.5,"P8":0.00164,"P9":0.00095,"P10":0.00038,"P11":0.000132},
{"p":7,"t":13.625,"P8":0.0016,"P9":0.00098,"P10":0.00041,"P11":0.000133},
{"p":7,"t":13.75,"P8":0.0017,"P9":0.001,"P10":0.00039,"P11":0.00013},
{"p":7,"t":13.875,"P8":0.00182,"P9":0.00096,"P10":0.00044,"P11":0.000136},
{"p":7,"t":14,"P8":0.0015,"P9":0.00088,"P10":0.00034,"P11":0.000128},
{"p":7,"t":14.125,"P8":0.00153,"P9":0.00092,"P10":0.00036,"P11":0.000126},
{"p":7,"t":14.25,"P8":0.00158,"P9":0.00083,"P10":0.00033,"P11":0.000122},
{"p":8,"t":21,"P8":0.0019,"P9":0.00103,"P10":0.00039,"P11":0.000132},
{"p":8,"t":21.125,"P8":0.0018,"P9":0.00093,"P10":0.00042,"P11":0.000128},
{"p":8,"t":21.25,"P8":0.00194,"P9":0.00088,"P10":0.0004,"P11":0.000131},
{"p":8,"t":21.375,"P8":0.00187,"P9":0.00097,"P10":0.00036,"P11":0.000129},
{"p":8,"t":21.5,"P8":0.00185,"P9":0.00104,"P10":0.00043,"P11":0.000133},
{"p":8,"t":21.625,"P8":0.00183,"P9":0.00106,"P10":0.0004,"P11":0.000127},
{"p":8,"t":21.75,"P8":0.00199,"P9":0.00096,"P10":0.00035,"P11":0.000136},
{"p":8,"t":21.875,"P8":0.00195,"P9":0.00091,"P10":0.00041,"P11":0.00013},
{"p":8,"t":22,"P8":0.00188,"P9":0.00098,"P10":0.00039,"P11":0.000129},
{"p":8,"t":22.125,"P8":0.00186,"P9":0.00085,"P10":0.00037,"P11":0.000133},
{"p":8,"t":22.25,"P8":0.00174,"P9":0.00098,"P10":0.0004,"P11":0.000131},
{"p":8,"t":22.375,"P8":0.00183,"P9":0.00094,"P10":0.00034,"P11":0.000128},
{"p":8,"t":22.5,"P8":0.00192,"P9":0.00097,"P10":0.00041,"P11":0.00013},
{"p":8,"t":22.58,"P8":0.0021,"P9":0.0012,"P10":0.00048,"P11":0.00014},
{"p":8,"t":22.625,"P8":0.00275,"P9":0.00118,"P10":0.00052,"P11":0.000152},
{"p":8,"t":22.75,"P8":0.00322,"P9":0.00128,"P10":0.00055,"P11":0.000138},
{"p":8,"t":22.875,"P8":0.0031,"P9":0.0012,"P10":0.00049,"P11":0.000135},
{"p":8,"t":23,"P8":0.00268,"P9":0.0011,"P10":0.00044,"P11":0.000132},
{"p":8,"t":23.125,"P8":0.00298,"P9":0.00134,"P10":0.00046,"P11":0.000129},
{"p":8,"t":23.25,"P8":0.00282,"P9":0.00115,"P10":0.00051,"P11":0.000134},
{"p":8,"t":23.375,"P8":0.00245,"P9":0.00108,"P10":0.00045,"P11":0.000131},
{"p":8,"t":23.5,"P8":0.0024,"P9":0.001,"P10":0.00041,"P11":0.000136},
{"p":8,"t":23.625,"P8":0.00232,"P9":0.00096,"P10":0.00044,"P11":0.00013},
{"p":8,"t":23.75,"P8":0.00222,"P9":0.00104,"P10":0.00046,"P11":0.000128},
{"p":8,"t":23.875,"P8":0.00213,"P9":0.00097,"P10":0.00042,"P11":0.000133},
{"p":8,"t":24,"P8":0.00208,"P9":0.0009,"P10":0.00037,"P11":0.000127},
{"p":8,"t":24.125,"P8":0.00196,"P9":0.00093,"P10":0.00041,"P11":0.000131},
{"p":8,"t":24.25,"P8":0.00185,"P9":0.00082,"P10":0.00036,"P11":0.000121},
{"p":8,"t":24.375,"P8":0.00193,"P9":0.00096,"P10":0.00039,"P11":0.000133},
{"p":8,"t":24.5,"P8":0.0019,"P9":0.00101,"P10":0.00034,"P11":0.00013},
{"p":8,"t":24.625,"P8":0.00188,"P9":0.00094,"P10":0.00043,"P11":0.000134},
{"p":8,"t":24.75,"P8":0.00194,"P9":0.00099,"P10":0.0004,"P11":0.000128},
{"p":8,"t":24.875,"P8":0.00204,"P9":0.00092,"P10":0.00035,"P11":0.000132},
{"p":8,"t":25,"P8":0.00192,"P9":0.00074,"P10":0.00039,"P11":0.000129},
{"p":8,"t":25.125,"P8":0.00189,"P9":0.00098,"P10":0.00042,"P11":0.000131},
{"p":8,"t":25.25,"P8":0.00187,"P9":0.00085,"P10":0.0004,"P11":0.000127},
{"p":8,"t":25.375,"P8":0.00193,"P9":0.00091,"P10":0.00037,"P11":0.00013},
{"p":8,"t":25.5,"P8":0.00185,"P9":0.00076,"P10":0.00041,"P11":0.000133},
{"p":8,"t":25.625,"P8":0.00195,"P9":0.00093,"P10":0.00038,"P11":0.000129},
{"p":8,"t":25.75,"P8":0.00184,"P9":0.00097,"P10":0.00043,"P11":0.000123},
{"p":8,"t":25.875,"P8":0.00189,"P9":0.0009,"P10":0.0004,"P11":0.000131},
{"p":8,"t":26,"P8":0.00186,"P9":0.00075,"P10":0.00041,"P11":0.000128},
{"p":9,"t":4,"P8":0.0016,"P9":0.0009,"P10":0.00037,"P11":0.000118},
{"p":9,"t":4.125,"P8":0.00152,"P9":0.00085,"P10":0.00035,"P11":0.000112},
{"p":9,"t":4.25,"P8":0.00148,"P9":0.00092,"P10":0.00033,"P11":0.000122},
{"p":9,"t":4.375,"P8":0.00141,"P9":0.00078,"P10":0.00036,"P11":0.000115},
{"p":9,"t":4.5,"P8":0.00156,"P9":0.00088,"P10":0.00032,"P11":0.000124},
{"p":9,"t":4.625,"P8":0.0015,"P9":0.0007,"P10":0.00035,"P11":0.000121},
{"p":9,"t":4.75,"P8":0.00162,"P9":0.00093,"P10":0.00034,"P11":0.000125},
{"p":9,"t":4.875,"P8":0.0018,"P9":0.00087,"P10":0.00026,"P11":0.000119},
{"p":9,"t":5,"P8":0.00158,"P9":0.00097,"P10":0.00036,"P11":0.000126},
{"p":9,"t":5.125,"P8":0.00154,"P9":0.00083,"P10":0.00033,"P11":0.00012},
{"p":9,"t":5.25,"P8":0.00147,"P9":0.00089,"P10":0.00035,"P11":0.000113},
{"p":9,"t":5.375,"P8":0.00153,"P9":0.00091,"P10":0.00037,"P11":0.000122},
{"p":9,"t":5.5,"P8":0.00145,"P9":0.00084,"P10":0.00034,"P11":0.000119},
{"p":9,"t":5.625,"P8":0.00151,"P9":0.00079,"P10":0.00032,"P11":0.000116},
{"p":9,"t":5.75,"P8":0.0016,"P9":0.00092,"P10":0.00037,"P11":0.000123},
{"p":9,"t":5.875,"P8":0.00172,"P9":0.0008,"P10":0.00035,"P11":0.00012},
{"p":9,"t":6,"P8":0.00168,"P9":0.00089,"P10":0.00033,"P11":0.000122},
{"p":9,"t":6.125,"P8":0.00166,"P9":0.00094,"P10":0.0003,"P11":0.000118},
{"p":9,"t":6.25,"P8":0.00141,"P9":0.0008,"P10":0.00034,"P11":0.000112},
{"p":9,"t":6.33,"P8":0.0031,"P9":0.0018,"P10":0.00072,"P11":0.000142},
{"p":9,"t":6.37,"P8":0.00355,"P9":0.0015,"P10":0.00068,"P11":0.000138},
{"p":9,"t":6.41,"P8":0.003,"P9":0.00135,"P10":0.00058,"P11":0.000136},
{"p":9,"t":6.45,"P8":0.0025,"P9":0.00125,"P10":0.00047,"P11":0.000133},
{"p":9,"t":6.5,"P8":0.00222,"P9":0.0011,"P10":0.00046,"P11":0.00013},
{"p":9,"t":6.625,"P8":0.00182,"P9":0.00093,"P10":0.00041,"P11":0.000128},
{"p":9,"t":6.75,"P8":0.0019,"P9":0.00098,"P10":0.00038,"P11":0.000141},
{"p":9,"t":6.875,"P8":0.00185,"P9":0.00106,"P10":0.00036,"P11":0.000129},
{"p":9,"t":7,"P8":0.00184,"P9":0.00082,"P10":0.00034,"P11":0.000131},
{"p":9,"t":7.125,"P8":0.0016,"P9":0.00094,"P10":0.00039,"P11":0.000117},
{"p":9,"t":7.25,"P8":0.00148,"P9":0.0009,"P10":0.0004,"P11":0.00012},
{"p":9,"t":7.375,"P8":0.0014,"P9":0.00088,"P10":0.00034,"P11":0.000121},
{"p":9,"t":7.5,"P8":0.00158,"P9":0.00087,"P10":0.00035,"P11":0.000118},
{"p":9,"t":7.625,"P8":0.00168,"P9":0.00091,"P10":0.00033,"P11":0.000124},
{"p":9,"t":7.75,"P8":0.00172,"P9":0.00086,"P10":0.0003,"P11":0.000122},
{"p":9,"t":7.875,"P8":0.00195,"P9":0.00103,"P10":0.00036,"P11":0.000119},
{"p":9,"t":8,"P8":0.00206,"P9":0.00097,"P10":0.00038,"P11":0.000123},
{"p":9,"t":8.125,"P8":0.00202,"P9":0.00095,"P10":0.00035,"P11":0.000112},
{"p":9,"t":8.25,"P8":0.00225,"P9":0.00107,"P10":0.00037,"P11":0.000109},
{"p":9,"t":8.375,"P8":0.00196,"P9":0.00098,"P10":0.00034,"P11":0.000111},
{"p":9,"t":8.5,"P8":0.00193,"P9":0.00093,"P10":0.00041,"P11":0.00011},
{"p":9,"t":8.625,"P8":0.00212,"P9":0.00101,"P10":0.00036,"P11":0.000125},
{"p":9,"t":8.75,"P8":0.0022,"P9":0.00097,"P10":0.0004,"P11":0.00013},
{"p":9,"t":8.875,"P8":0.00192,"P9":0.00094,"P10":0.00037,"P11":0.000121},
{"p":9,"t":9,"P8":0.00183,"P9":0.00098,"P10":0.00032,"P11":0.00012},
{"p":10,"t":6,"P8":0.00158,"P9":0.00092,"P10":0.00033,"P11":0.000118},
{"p":10,"t":6.125,"P8":0.00162,"P9":0.00096,"P10":0.00031,"P11":0.000125},
{"p":10,"t":6.25,"P8":0.0014,"P9":0.00077,"P10":0.0003,"P11":0.000113},
{"p":10,"t":6.33,"P8":0.0031,"P9":0.00178,"P10":0.00078,"P11":0.000142},
{"p":10,"t":6.37,"P8":0.0036,"P9":0.0015,"P10":0.00071,"P11":0.000136},
{"p":10,"t":6.41,"P8":0.0031,"P9":0.00138,"P10":0.00062,"P11":0.000138},
{"p":10,"t":6.45,"P8":0.0026,"P9":0.00131,"P10":0.00047,"P11":0.000131},
{"p":10,"t":6.5,"P8":0.0022,"P9":0.00109,"P10":0.00046,"P11":0.000128},
{"p":10,"t":6.625,"P8":0.0019,"P9":0.001,"P10":0.0004,"P11":0.00013},
{"p":10,"t":6.75,"P8":0.00182,"P9":0.00096,"P10":0.00039,"P11":0.000145},
{"p":10,"t":6.875,"P8":0.0019,"P9":0.0011,"P10":0.0004,"P11":0.000127},
{"p":10,"t":7,"P8":0.00188,"P9":0.00094,"P10":0.00037,"P11":0.000129},
{"p":10,"t":7.125,"P8":0.00158,"P9":0.00085,"P10":0.00035,"P11":0.000121},
{"p":10,"t":7.25,"P8":0.0014,"P9":0.00096,"P10":0.00038,"P11":0.000118},
{"p":10,"t":7.375,"P8":0.00137,"P9":0.0009,"P10":0.00036,"P11":0.000124},
{"p":10,"t":7.5,"P8":0.0016,"P9":0.00086,"P10":0.00033,"P11":0.00012},
{"p":10,"t":7.625,"P8":0.0017,"P9":0.00083,"P10":0.00037,"P11":0.000126},
{"p":10,"t":7.75,"P8":0.00162,"P9":0.00082,"P10":0.00032,"P11":0.000122},
{"p":10,"t":7.875,"P8":0.00198,"P9":0.0011,"P10":0.00036,"P11":0.000117},
{"p":10,"t":8,"P8":0.00208,"P9":0.00095,"P10":0.00037,"P11":0.000113},
{"p":10,"t":8.125,"P8":0.002,"P9":0.00103,"P10":0.00035,"P11":0.000115},
{"p":10,"t":8.25,"P8":0.00225,"P9":0.00111,"P10":0.00036,"P11":0.00011},
{"p":10,"t":8.375,"P8":0.00192,"P9":0.00097,"P10":0.00034,"P11":0.000112},
{"p":10,"t":8.5,"P8":0.00196,"P9":0.00102,"P10":0.00042,"P11":0.000116},
{"p":10,"t":8.625,"P8":0.00203,"P9":0.00096,"P10":0.00037,"P11":0.00012},
{"p":10,"t":8.75,"P8":0.00222,"P9":0.00099,"P10":0.00039,"P11":0.000131},
{"p":10,"t":8.875,"P8":0.0019,"P9":0.00097,"P10":0.00036,"P11":0.000137},
{"p":10,"t":9,"P8":0.00186,"P9":0.00096,"P10":0.00034,"P11":0.000129},
{"p":10,"t":9.125,"P8":0.00178,"P9":0.00083,"P10":0.00031,"P11":0.000118},
{"p":10,"t":9.25,"P8":0.00158,"P9":0.00087,"P10":0.00029,"P11":0.000108},
{"p":10,"t":9.375,"P8":0.00152,"P9":0.00085,"P10":0.00034,"P11":0.00011},
{"p":10,"t":9.5,"P8":0.00157,"P9":0.00091,"P10":0.00033,"P11":0.000107},
{"p":10,"t":9.625,"P8":0.0016,"P9":0.00084,"P10":0.00035,"P11":0.000121},
{"p":10,"t":9.75,"P8":0.00178,"P9":0.00097,"P10":0.00034,"P11":0.000118},
{"p":10,"t":9.875,"P8":0.0017,"P9":0.00088,"P10":0.00032,"P11":0.00012},
{"p":10,"t":10,"P8":0.00155,"P9":0.00086,"P10":0.00034,"P11":0.000125},
{"p":10,"t":10.125,"P8":0.00148,"P9":0.00084,"P10":0.00033,"P11":0.000119},
{"p":10,"t":10.25,"P8":0.00131,"P9":0.00088,"P10":0.00031,"P11":0.000114},
{"p":10,"t":10.375,"P8":0.00146,"P9":0.0008,"P10":0.00034,"P11":0.000112},
{"p":10,"t":10.5,"P8":0.00142,"P9":0.00085,"P10":0.0003,"P11":0.000116},
{"p":10,"t":10.625,"P8":0.00147,"P9":0.00078,"P10":0.0003,"P11":0.000118},
{"p":10,"t":10.75,"P8":0.00155,"P9":0.00086,"P10":0.00033,"P11":0.000115},
{"p":10,"t":10.875,"P8":0.00158,"P9":0.00083,"P10":0.00032,"P11":0.000123},
{"p":10,"t":11,"P8":0.00152,"P9":0.00087,"P10":0.00033,"P11":0.000128},
{"p":11,"t":23,"P8":0.00128,"P9":0.00072,"P10":0.00029,"P11":0.000106},
{"p":11,"t":23.125,"P8":0.00138,"P9":0.00078,"P10":0.0003,"P11":0.000107},
{"p":11,"t":23.25,"P8":0.00127,"P9":0.00082,"P10":0.00033,"P11":0.000105},
{"p":11,"t":23.375,"P8":0.00135,"P9":0.00087,"P10":0.00032,"P11":0.000106},
{"p":11,"t":23.5,"P8":0.00132,"P9":0.0008,"P10":0.00028,"P11":0.000104},
{"p":11,"t":23.625,"P8":0.0013,"P9":0.0007,"P10":0.00027,"P11":0.000106},
{"p":11,"t":23.75,"P8":0.00139,"P9":0.00074,"P10":0.00031,"P11":0.000108},
{"p":11,"t":23.875,"P8":0.00136,"P9":0.00071,"P10":0.00029,"P11":0.000107},
{"p":11,"t":24,"P8":0.00135,"P9":0.00077,"P10":0.00027,"P11":0.000105},
{"p":11,"t":24.125,"P8":0.00129,"P9":0.00063,"P10":0.00031,"P11":0.000109},
{"p":11,"t":24.25,"P8":0.00142,"P9":0.00081,"P10":0.00032,"P11":0.000106},
{"p":11,"t":24.375,"P8":0.0014,"P9":0.00064,"P10":0.0003,"P11":0.000111},
{"p":11,"t":24.5,"P8":0.00117,"P9":0.00082,"P10":0.00029,"P11":0.000107},
{"p":11,"t":24.625,"P8":0.00137,"P9":0.00079,"P10":0.0003,"P11":0.000108},
{"p":11,"t":24.75,"P8":0.0014,"P9":0.00086,"P10":0.00031,"P11":0.00011},
{"p":11,"t":24.875,"P8":0.00138,"P9":0.00081,"P10":0.00028,"P11":0.000111},
{"p":11,"t":25,"P8":0.00131,"P9":0.00074,"P10":0.0003,"P11":0.000108},
{"p":11,"t":25.125,"P8":0.0015,"P9":0.00071,"P10":0.00031,"P11":0.000113},
{"p":11,"t":25.25,"P8":0.00158,"P9":0.00085,"P10":0.00034,"P11":0.000112},
{"p":11,"t":25.375,"P8":0.00152,"P9":0.00102,"P10":0.00038,"P11":0.000116},
{"p":11,"t":25.5,"P8":0.00148,"P9":0.00095,"P10":0.00043,"P11":0.000113},
{"p":11,"t":25.625,"P8":0.0016,"P9":0.00098,"P10":0.0004,"P11":0.00011},
{"p":11,"t":25.75,"P8":0.00168,"P9":0.0009,"P10":0.00036,"P11":0.000111},
{"p":11,"t":25.875,"P8":0.00185,"P9":0.00093,"P10":0.00038,"P11":0.000114},
{"p":11,"t":26,"P8":0.0017,"P9":0.00092,"P10":0.00042,"P11":0.000112},
{"p":11,"t":26.125,"P8":0.00158,"P9":0.00099,"P10":0.00035,"P11":0.00011},
{"p":11,"t":26.25,"P8":0.0016,"P9":0.00088,"P10":0.00037,"P11":0.000109},
{"p":11,"t":26.375,"P8":0.00155,"P9":0.00084,"P10":0.00034,"P11":0.000111},
{"p":11,"t":26.5,"P8":0.0014,"P9":0.00076,"P10":0.00033,"P11":0.000108},
{"p":11,"t":26.625,"P8":0.00145,"P9":0.00083,"P10":0.00032,"P11":0.00011},
{"p":11,"t":26.75,"P8":0.00143,"P9":0.00078,"P10":0.0003,"P11":0.000107},
{"p":11,"t":26.875,"P8":0.00148,"P9":0.0008,"P10":0.00036,"P11":0.000112},
{"p":11,"t":27,"P8":0.00142,"P9":0.00082,"P10":0.00031,"P11":0.000113},
{"p":11,"t":27.125,"P8":0.00145,"P9":0.00076,"P10":0.00028,"P11":0.00011},
{"p":11,"t":27.25,"P8":0.0015,"P9":0.00083,"P10":0.00031,"P11":0.000108},
{"p":11,"t":27.375,"P8":0.00139,"P9":0.00068,"P10":0.00032,"P11":0.000107},
{"p":11,"t":27.5,"P8":0.00144,"P9":0.0008,"P10":0.00033,"P11":0.000109},
{"p":11,"t":27.625,"P8":0.00147,"P9":0.00086,"P10":0.0003,"P11":0.000111},
{"p":11,"t":27.75,"P8":0.00141,"P9":0.00071,"P10":0.00032,"P11":0.000114},
{"p":11,"t":27.875,"P8":0.00149,"P9":0.00077,"P10":0.00027,"P11":0.000108},
{"p":11,"t":28,"P8":0.00143,"P9":0.0008,"P10":0.00026,"P11":0.00011}]
},
"concat": [
{"width":354,"height":307,"title":{"text":"GOES-13/HEPAD:  2011 June 5-10"},
"layer":[{"layer":[
{"data":{"name":"pts"},"transform":[{"filter":"datum.p==1"},{"fold":["P8","P9","P10","P11"],"as":["s","v"]}],"mark":{"type":"point","filled":true,"size":18,"opacity":1,"clip":true},"encoding":{"x":{"field":"t","type":"quantitative","scale":{"domain":[5.5,10.5],"nice":false,"zero":false},"axis":{"title":"Time","labels":false,"titlePadding":41,"values":[6,7,8,9,10,5.5,5.625,5.75,5.875,6.125,6.25,6.375,6.5,6.625,6.75,6.875,7.125,7.25,7.375,7.5,7.625,7.75,7.875,8.125,8.25,8.375,8.5,8.625,8.75,8.875,9.125,9.25,9.375,9.5,9.625,9.75,9.875,10.125,10.25,10.375,10.5],"tickSize":{"condition":{"test":"abs(datum.value - round(datum.value)) < 0.01","value":-9},"value":-5}}},"y":{"field":"v","type":"quantitative","scale":{"type":"log","domain":[0.0001,0.02],"nice":false},"axis":{"title":"Hourly-Averaged Proton Rates (uncorrected)","values":[0.0002,0.0003,0.0004,0.0005,0.0006,0.0007,0.0008,0.0009,0.001,0.002,0.003,0.004,0.005,0.006,0.007,0.008,0.009,0.01,0.02],"format":"~g","labelOverlap":false,"labelExpr":"indexof(['0.0002','0.0004','0.0006','0.0008','0.001','0.002','0.004','0.006','0.008','0.01','0.02'], datum.label) >= 0 ? datum.label : ''","tickSize":{"condition":{"test":"datum.value == 0.001 || datum.value == 0.01","value":-8},"value":-5},"labelPadding":13}},"color":{"field":"s","type":"nominal","legend":null},"shape":{"field":"s","type":"nominal","legend":null}}},
{"data":{"name":"base"},"transform":[{"filter":"datum.p==1"}],"mark":{"type":"rule","color":"black","strokeWidth":2,"strokeDash":[2,1]},"encoding":{"x":{"field":"t0","type":"quantitative"},"x2":{"field":"t1"},"y":{"field":"v","type":"quantitative"}}},
{"data":{"name":"ev"},"transform":[{"filter":"datum.p==1 && datum.k=='s'"}],"mark":{"type":"rule","color":"black","strokeWidth":1.6},"encoding":{"x":{"field":"t","type":"quantitative"},"y":{"datum":0.0137},"y2":{"datum":0.00006}}},
{"data":{"name":"ev"},"transform":[{"filter":"datum.p==1 && datum.k=='s'"}],"mark":{"type":"text","align":"left","baseline":"middle","dx":4,"fontSize":13.5},"encoding":{"x":{"field":"t","type":"quantitative"},"y":{"datum":0.0137},"text":{"field":"lab"}}},
{"data":{"name":"ev"},"transform":[{"filter":"datum.p==1 && datum.k=='e'"}],"mark":{"type":"rule","color":"black","strokeWidth":1.6},"encoding":{"x":{"field":"t","type":"quantitative"},"y":{"datum":0.0109},"y2":{"datum":0.00006}}},
{"data":{"name":"ev"},"transform":[{"filter":"datum.p==1 && datum.k=='e'"}],"mark":{"type":"text","align":"left","baseline":"middle","dx":4,"fontSize":13.5},"encoding":{"x":{"field":"t","type":"quantitative"},"y":{"datum":0.0109},"text":{"field":"lab"}}},
{"data":{"name":"xl"},"transform":[{"filter":"datum.p==1"}],"mark":{"type":"text","align":"center","baseline":"middle","fontSize":14},"encoding":{"x":{"field":"t","type":"quantitative"},"y":{"datum":0.0000759},"text":{"field":"d"}}},
{"data":{"name":"xl"},"transform":[{"filter":"datum.p==1 && datum.m != ''"}],"mark":{"type":"text","align":"center","baseline":"middle","fontSize":14},"encoding":{"x":{"field":"t","type":"quantitative"},"y":{"datum":0.0000576},"text":{"field":"m"}}}
]},
{"data":{"name":"leg"},"mark":{"type":"text","align":"left","baseline":"middle","fontSize":13},"encoding":{"x":{"datum":5.7},"y":{"field":"s","type":"ordinal","scale":{"type":"point","domain":["P8","P9","P10","P11"],"range":[27,63],"padding":0},"axis":null},"text":{"field":"lab"},"color":{"field":"s","type":"nominal","legend":null}}}
],"resolve":{"scale":{"y":"independent"}}},

{"width":354,"height":307,"title":{"text":"GOES-13/HEPAD:  2011 August 2-7"},
"layer":[{"layer":[
{"data":{"name":"pts"},"transform":[{"filter":"datum.p==2"},{"fold":["P8","P9","P10","P11"],"as":["s","v"]}],"mark":{"type":"point","filled":true,"size":18,"opacity":1,"clip":true},"encoding":{"x":{"field":"t","type":"quantitative","scale":{"domain":[2.5,7.5],"nice":false,"zero":false},"axis":{"title":"Time","labels":false,"titlePadding":41,"values":[3,4,5,6,7,2.5,2.625,2.75,2.875,3.125,3.25,3.375,3.5,3.625,3.75,3.875,4.125,4.25,4.375,4.5,4.625,4.75,4.875,5.125,5.25,5.375,5.5,5.625,5.75,5.875,6.125,6.25,6.375,6.5,6.625,6.75,6.875,7.125,7.25,7.375,7.5],"tickSize":{"condition":{"test":"abs(datum.value - round(datum.value)) < 0.01","value":-9},"value":-5}}},"y":{"field":"v","type":"quantitative","scale":{"type":"log","domain":[0.0001,0.02],"nice":false},"axis":{"title":"Hourly-Averaged Proton Rates (uncorrected)","values":[0.0002,0.0003,0.0004,0.0005,0.0006,0.0007,0.0008,0.0009,0.001,0.002,0.003,0.004,0.005,0.006,0.007,0.008,0.009,0.01,0.02],"format":"~g","labelOverlap":false,"labelExpr":"indexof(['0.0002','0.0004','0.0006','0.0008','0.001','0.002','0.004','0.006','0.008','0.01','0.02'], datum.label) >= 0 ? datum.label : ''","tickSize":{"condition":{"test":"datum.value == 0.001 || datum.value == 0.01","value":-8},"value":-5},"labelPadding":13}},"color":{"field":"s","type":"nominal","legend":null},"shape":{"field":"s","type":"nominal","legend":null}}},
{"data":{"name":"base"},"transform":[{"filter":"datum.p==2"}],"mark":{"type":"rule","color":"black","strokeWidth":2,"strokeDash":[2,1]},"encoding":{"x":{"field":"t0","type":"quantitative"},"x2":{"field":"t1"},"y":{"field":"v","type":"quantitative"}}},
{"data":{"name":"ev"},"transform":[{"filter":"datum.p==2 && datum.k=='s'"}],"mark":{"type":"rule","color":"black","strokeWidth":1.6},"encoding":{"x":{"field":"t","type":"quantitative"},"y":{"datum":0.0131},"y2":{"datum":0.00006}}},
{"data":{"name":"ev"},"transform":[{"filter":"datum.p==2 && datum.k=='s'"}],"mark":{"type":"text","align":"left","baseline":"middle","dx":4,"fontSize":13.5},"encoding":{"x":{"field":"t","type":"quantitative"},"y":{"datum":0.0131},"text":{"field":"lab"}}},
{"data":{"name":"ev"},"transform":[{"filter":"datum.p==2 && datum.k=='e'"}],"mark":{"type":"rule","color":"black","strokeWidth":1.6},"encoding":{"x":{"field":"t","type":"quantitative"},"y":{"datum":0.0105},"y2":{"datum":0.00006}}},
{"data":{"name":"ev"},"transform":[{"filter":"datum.p==2 && datum.k=='e'"}],"mark":{"type":"text","align":"left","baseline":"middle","dx":4,"fontSize":13.5},"encoding":{"x":{"field":"t","type":"quantitative"},"y":{"datum":0.0105},"text":{"field":"lab"}}},
{"data":{"name":"xl"},"transform":[{"filter":"datum.p==2"}],"mark":{"type":"text","align":"center","baseline":"middle","fontSize":14},"encoding":{"x":{"field":"t","type":"quantitative"},"y":{"datum":0.0000759},"text":{"field":"d"}}},
{"data":{"name":"xl"},"transform":[{"filter":"datum.p==2 && datum.m != ''"}],"mark":{"type":"text","align":"center","baseline":"middle","fontSize":14},"encoding":{"x":{"field":"t","type":"quantitative"},"y":{"datum":0.0000576},"text":{"field":"m"}}}
]},
{"data":{"name":"leg"},"mark":{"type":"text","align":"left","baseline":"middle","fontSize":13},"encoding":{"x":{"datum":2.7},"y":{"field":"s","type":"ordinal","scale":{"type":"point","domain":["P8","P9","P10","P11"],"range":[27,63],"padding":0},"axis":null},"text":{"field":"lab"},"color":{"field":"s","type":"nominal","legend":null}}}
],"resolve":{"scale":{"y":"independent"}}},

{"width":354,"height":307,"title":{"text":"GOES-13/HEPAD:  2012 January 21-26"},
"layer":[{"layer":[
{"data":{"name":"pts"},"transform":[{"filter":"datum.p==3"},{"fold":["P8","P9","P10","P11"],"as":["s","v"]}],"mark":{"type":"point","filled":true,"size":18,"opacity":1,"clip":true},"encoding":{"x":{"field":"t","type":"quantitative","scale":{"domain":[21,26],"nice":false,"zero":false},"axis":{"title":"Time","labels":false,"titlePadding":41,"values":[21,21.125,21.25,21.375,21.5,21.625,21.75,21.875,22,22.125,22.25,22.375,22.5,22.625,22.75,22.875,23,23.125,23.25,23.375,23.5,23.625,23.75,23.875,24,24.125,24.25,24.375,24.5,24.625,24.75,24.875,25,25.125,25.25,25.375,25.5,25.625,25.75,25.875,26],"tickSize":{"condition":{"test":"abs(datum.value - round(datum.value)) < 0.01","value":-9},"value":-5}}},"y":{"field":"v","type":"quantitative","scale":{"type":"log","domain":[0.0001,0.02],"nice":false},"axis":{"title":"Hourly-Averaged Proton Rates (uncorrected)","values":[0.0002,0.0003,0.0004,0.0005,0.0006,0.0007,0.0008,0.0009,0.001,0.002,0.003,0.004,0.005,0.006,0.007,0.008,0.009,0.01,0.02],"format":"~g","labelOverlap":false,"labelExpr":"indexof(['0.0002','0.0004','0.0006','0.0008','0.001','0.002','0.004','0.006','0.008','0.01','0.02'], datum.label) >= 0 ? datum.label : ''","tickSize":{"condition":{"test":"datum.value == 0.001 || datum.value == 0.01","value":-8},"value":-5},"labelPadding":13}},"color":{"field":"s","type":"nominal","legend":null},"shape":{"field":"s","type":"nominal","legend":null}}},
{"data":{"name":"base"},"transform":[{"filter":"datum.p==3"}],"mark":{"type":"rule","color":"black","strokeWidth":2,"strokeDash":[2,1]},"encoding":{"x":{"field":"t0","type":"quantitative"},"x2":{"field":"t1"},"y":{"field":"v","type":"quantitative"}}},
{"data":{"name":"ev"},"transform":[{"filter":"datum.p==3 && datum.k=='s'"}],"mark":{"type":"rule","color":"black","strokeWidth":1.6},"encoding":{"x":{"field":"t","type":"quantitative"},"y":{"datum":0.0131},"y2":{"datum":0.00006}}},
{"data":{"name":"ev"},"transform":[{"filter":"datum.p==3 && datum.k=='s'"}],"mark":{"type":"text","align":"left","baseline":"middle","dx":4,"fontSize":13.5},"encoding":{"x":{"field":"t","type":"quantitative"},"y":{"datum":0.0131},"text":{"field":"lab"}}},
{"data":{"name":"ev"},"transform":[{"filter":"datum.p==3 && datum.k=='e'"}],"mark":{"type":"rule","color":"black","strokeWidth":1.6},"encoding":{"x":{"field":"t","type":"quantitative"},"y":{"datum":0.0106},"y2":{"datum":0.00006}}},
{"data":{"name":"ev"},"transform":[{"filter":"datum.p==3 && datum.k=='e'"}],"mark":{"type":"text","align":"left","baseline":"middle","dx":4,"fontSize":13.5},"encoding":{"x":{"field":"t","type":"quantitative"},"y":{"datum":0.0106},"text":{"field":"lab"}}},
{"data":{"name":"xl"},"transform":[{"filter":"datum.p==3"}],"mark":{"type":"text","align":"center","baseline":"middle","fontSize":14},"encoding":{"x":{"field":"t","type":"quantitative"},"y":{"datum":0.0000759},"text":{"field":"d"}}},
{"data":{"name":"xl"},"transform":[{"filter":"datum.p==3 && datum.m != ''"}],"mark":{"type":"text","align":"center","baseline":"middle","fontSize":14},"encoding":{"x":{"field":"t","type":"quantitative"},"y":{"datum":0.0000576},"text":{"field":"m"}}}
]},
{"data":{"name":"leg"},"mark":{"type":"text","align":"left","baseline":"middle","fontSize":13},"encoding":{"x":{"datum":21.2},"y":{"field":"s","type":"ordinal","scale":{"type":"point","domain":["P8","P9","P10","P11"],"range":[27,63],"padding":0},"axis":null},"text":{"field":"lab"},"color":{"field":"s","type":"nominal","legend":null}}}
],"resolve":{"scale":{"y":"independent"}}},

{"width":354,"height":307,"title":{"text":"GOES-13/HEPAD:  2012 January 26-31"},
"layer":[{"layer":[
{"data":{"name":"pts"},"transform":[{"filter":"datum.p==4"},{"fold":["P8","P9","P10","P11"],"as":["s","v"]}],"mark":{"type":"point","filled":true,"size":18,"opacity":1,"clip":true},"encoding":{"x":{"field":"t","type":"quantitative","scale":{"domain":[26.25,31.25],"nice":false,"zero":false},"axis":{"title":"Time","labels":false,"titlePadding":41,"values":[27,28,29,30,31,26.25,26.375,26.5,26.625,26.75,26.875,27.125,27.25,27.375,27.5,27.625,27.75,27.875,28.125,28.25,28.375,28.5,28.625,28.75,28.875,29.125,29.25,29.375,29.5,29.625,29.75,29.875,30.125,30.25,30.375,30.5,30.625,30.75,30.875,31.125,31.25],"tickSize":{"condition":{"test":"abs(datum.value - round(datum.value)) < 0.01","value":-9},"value":-5}}},"y":{"field":"v","type":"quantitative","scale":{"type":"log","domain":[0.0001,0.02],"nice":false},"axis":{"title":"Hourly-Averaged Proton Rates (uncorrected)","values":[0.0002,0.0003,0.0004,0.0005,0.0006,0.0007,0.0008,0.0009,0.001,0.002,0.003,0.004,0.005,0.006,0.007,0.008,0.009,0.01,0.02],"format":"~g","labelOverlap":false,"labelExpr":"indexof(['0.0002','0.0004','0.0006','0.0008','0.001','0.002','0.004','0.006','0.008','0.01','0.02'], datum.label) >= 0 ? datum.label : ''","tickSize":{"condition":{"test":"datum.value == 0.001 || datum.value == 0.01","value":-8},"value":-5},"labelPadding":13}},"color":{"field":"s","type":"nominal","legend":null},"shape":{"field":"s","type":"nominal","legend":null}}},
{"data":{"name":"base"},"transform":[{"filter":"datum.p==4"}],"mark":{"type":"rule","color":"black","strokeWidth":2,"strokeDash":[2,1]},"encoding":{"x":{"field":"t0","type":"quantitative"},"x2":{"field":"t1"},"y":{"field":"v","type":"quantitative"}}},
{"data":{"name":"ev"},"transform":[{"filter":"datum.p==4 && datum.k=='s'"}],"mark":{"type":"rule","color":"black","strokeWidth":1.6},"encoding":{"x":{"field":"t","type":"quantitative"},"y":{"datum":0.0172},"y2":{"datum":0.00006}}},
{"data":{"name":"ev"},"transform":[{"filter":"datum.p==4 && datum.k=='s'"}],"mark":{"type":"text","align":"left","baseline":"middle","dx":4,"fontSize":13.5},"encoding":{"x":{"field":"t","type":"quantitative"},"y":{"datum":0.0166},"text":{"field":"lab"}}},
{"data":{"name":"ev"},"transform":[{"filter":"datum.p==4 && datum.k=='e'"}],"mark":{"type":"rule","color":"black","strokeWidth":1.6},"encoding":{"x":{"field":"t","type":"quantitative"},"y":{"datum":0.0108},"y2":{"datum":0.00006}}},
{"data":{"name":"ev"},"transform":[{"filter":"datum.p==4 && datum.k=='e'"}],"mark":{"type":"text","align":"left","baseline":"middle","dx":4,"fontSize":13.5},"encoding":{"x":{"field":"t","type":"quantitative"},"y":{"datum":0.0108},"text":{"field":"lab"}}},
{"data":{"name":"xl"},"transform":[{"filter":"datum.p==4"}],"mark":{"type":"text","align":"center","baseline":"middle","fontSize":14},"encoding":{"x":{"field":"t","type":"quantitative"},"y":{"datum":0.0000759},"text":{"field":"d"}}},
{"data":{"name":"xl"},"transform":[{"filter":"datum.p==4 && datum.m != ''"}],"mark":{"type":"text","align":"center","baseline":"middle","fontSize":14},"encoding":{"x":{"field":"t","type":"quantitative"},"y":{"datum":0.0000576},"text":{"field":"m"}}}
]},
{"data":{"name":"leg"},"mark":{"type":"text","align":"left","baseline":"middle","fontSize":13},"encoding":{"x":{"datum":26.45},"y":{"field":"s","type":"ordinal","scale":{"type":"point","domain":["P8","P9","P10","P11"],"range":[27,63],"padding":0},"axis":null},"text":{"field":"lab"},"color":{"field":"s","type":"nominal","legend":null}}}
],"resolve":{"scale":{"y":"independent"}}},

{"width":354,"height":307,"title":{"text":"GOES-13/HEPAD:  2012 March 5-10"},
"layer":[{"layer":[
{"data":{"name":"pts"},"transform":[{"filter":"datum.p==5"},{"fold":["P8","P9","P10","P11"],"as":["s","v"]}],"mark":{"type":"point","filled":true,"size":18,"opacity":1,"clip":true},"encoding":{"x":{"field":"t","type":"quantitative","scale":{"domain":[5.5,10.5],"nice":false,"zero":false},"axis":{"title":"Time","labels":false,"titlePadding":41,"values":[6,7,8,9,10,5.5,5.625,5.75,5.875,6.125,6.25,6.375,6.5,6.625,6.75,6.875,7.125,7.25,7.375,7.5,7.625,7.75,7.875,8.125,8.25,8.375,8.5,8.625,8.75,8.875,9.125,9.25,9.375,9.5,9.625,9.75,9.875,10.125,10.25,10.375,10.5],"tickSize":{"condition":{"test":"abs(datum.value - round(datum.value)) < 0.01","value":-9},"value":-5}}},"y":{"field":"v","type":"quantitative","scale":{"type":"log","domain":[0.0001,0.02],"nice":false},"axis":{"title":"Hourly-Averaged Proton Rates (uncorrected)","values":[0.0002,0.0003,0.0004,0.0005,0.0006,0.0007,0.0008,0.0009,0.001,0.002,0.003,0.004,0.005,0.006,0.007,0.008,0.009,0.01,0.02],"format":"~g","labelOverlap":false,"labelExpr":"indexof(['0.0002','0.0004','0.0006','0.0008','0.001','0.002','0.004','0.006','0.008','0.01','0.02'], datum.label) >= 0 ? datum.label : ''","tickSize":{"condition":{"test":"datum.value == 0.001 || datum.value == 0.01","value":-8},"value":-5},"labelPadding":13}},"color":{"field":"s","type":"nominal","legend":null},"shape":{"field":"s","type":"nominal","legend":null}}},
{"data":{"name":"base"},"transform":[{"filter":"datum.p==5"}],"mark":{"type":"rule","color":"black","strokeWidth":2,"strokeDash":[2,1]},"encoding":{"x":{"field":"t0","type":"quantitative"},"x2":{"field":"t1"},"y":{"field":"v","type":"quantitative"}}},
{"data":{"name":"ev"},"transform":[{"filter":"datum.p==5 && datum.k=='s'"}],"mark":{"type":"rule","color":"black","strokeWidth":1.6},"encoding":{"x":{"field":"t","type":"quantitative"},"y":{"datum":0.0175},"y2":{"datum":0.00006}}},
{"data":{"name":"ev"},"transform":[{"filter":"datum.p==5 && datum.k=='s'"}],"mark":{"type":"text","align":"left","baseline":"middle","dx":7,"fontSize":13.5},"encoding":{"x":{"field":"t","type":"quantitative"},"y":{"datum":0.016},"text":{"field":"lab"}}},
{"data":{"name":"ev"},"transform":[{"filter":"datum.p==5 && datum.k=='s2'"}],"mark":{"type":"rule","color":"black","strokeWidth":1.6},"encoding":{"x":{"field":"t","type":"quantitative"},"y":{"datum":0.0135},"y2":{"datum":0.00006}}},
{"data":{"name":"ev"},"transform":[{"filter":"datum.p==5 && datum.k=='s2'"}],"mark":{"type":"text","align":"left","baseline":"middle","dx":3,"fontSize":13.5},"encoding":{"x":{"field":"t","type":"quantitative"},"y":{"datum":0.0129},"text":{"field":"lab"}}},
{"data":{"name":"ev"},"transform":[{"filter":"datum.p==5 && datum.k=='e'"}],"mark":{"type":"rule","color":"black","strokeWidth":1.6},"encoding":{"x":{"field":"t","type":"quantitative"},"y":{"datum":0.0071},"y2":{"datum":0.00006}}},
{"data":{"name":"ev"},"transform":[{"filter":"datum.p==5 && datum.k=='e'"}],"mark":{"type":"text","align":"left","baseline":"middle","dx":4,"fontSize":13.5},"encoding":{"x":{"field":"t","type":"quantitative"},"y":{"datum":0.0071},"text":{"field":"lab"}}},
{"data":{"name":"xl"},"transform":[{"filter":"datum.p==5"}],"mark":{"type":"text","align":"center","baseline":"middle","fontSize":14},"encoding":{"x":{"field":"t","type":"quantitative"},"y":{"datum":0.0000759},"text":{"field":"d"}}},
{"data":{"name":"xl"},"transform":[{"filter":"datum.p==5 && datum.m != ''"}],"mark":{"type":"text","align":"center","baseline":"middle","fontSize":14},"encoding":{"x":{"field":"t","type":"quantitative"},"y":{"datum":0.0000576},"text":{"field":"m"}}}
]},
{"data":{"name":"leg"},"mark":{"type":"text","align":"left","baseline":"middle","fontSize":13},"encoding":{"x":{"datum":5.68},"y":{"field":"s","type":"ordinal","scale":{"type":"point","domain":["P8","P9","P10","P11"],"range":[27,63],"padding":0},"axis":null},"text":{"field":"lab"},"color":{"field":"s","type":"nominal","legend":null}}}
],"resolve":{"scale":{"y":"independent"}}},

{"width":354,"height":307,"title":{"text":"GOES-13/HEPAD:  2012 May 15-20"},
"layer":[{"layer":[
{"data":{"name":"pts"},"transform":[{"filter":"datum.p==6"},{"fold":["P8","P9","P10","P11"],"as":["s","v"]}],"mark":{"type":"point","filled":true,"size":18,"opacity":1,"clip":true},"encoding":{"x":{"field":"t","type":"quantitative","scale":{"domain":[15,20.43],"nice":false,"zero":false},"axis":{"title":"Time","labels":false,"titlePadding":41,"values":[15,15.125,15.25,15.375,15.5,15.625,15.75,15.875,16,16.125,16.25,16.375,16.5,16.625,16.75,16.875,17,17.125,17.25,17.375,17.5,17.625,17.75,17.875,18,18.125,18.25,18.375,18.5,18.625,18.75,18.875,19,19.125,19.25,19.375,19.5,19.625,19.75,19.875,20,20.125,20.25,20.375],"tickSize":{"condition":{"test":"abs(datum.value - round(datum.value)) < 0.01","value":-9},"value":-5}}},"y":{"field":"v","type":"quantitative","scale":{"type":"log","domain":[0.0001,0.02],"nice":false},"axis":{"title":"Hourly-Averaged Proton Rates (uncorrected)","values":[0.0002,0.0003,0.0004,0.0005,0.0006,0.0007,0.0008,0.0009,0.001,0.002,0.003,0.004,0.005,0.006,0.007,0.008,0.009,0.01,0.02],"format":"~g","labelOverlap":false,"labelExpr":"indexof(['0.0002','0.0004','0.0006','0.0008','0.001','0.002','0.004','0.006','0.008','0.01','0.02'], datum.label) >= 0 ? datum.label : ''","tickSize":{"condition":{"test":"datum.value == 0.001 || datum.value == 0.01","value":-8},"value":-5},"labelPadding":13}},"color":{"field":"s","type":"nominal","legend":null},"shape":{"field":"s","type":"nominal","legend":null}}},
{"data":{"name":"base"},"transform":[{"filter":"datum.p==6"}],"mark":{"type":"rule","color":"black","strokeWidth":2,"strokeDash":[2,1]},"encoding":{"x":{"field":"t0","type":"quantitative"},"x2":{"field":"t1"},"y":{"field":"v","type":"quantitative"}}},
{"data":{"name":"ev"},"transform":[{"filter":"datum.p==6 && datum.k=='s'"}],"mark":{"type":"rule","color":"black","strokeWidth":1.6},"encoding":{"x":{"field":"t","type":"quantitative"},"y":{"datum":0.013},"y2":{"datum":0.00006}}},
{"data":{"name":"ev"},"transform":[{"filter":"datum.p==6 && datum.k=='s'"}],"mark":{"type":"text","align":"left","baseline":"middle","dx":4,"fontSize":13.5},"encoding":{"x":{"field":"t","type":"quantitative"},"y":{"datum":0.013},"text":{"field":"lab"}}},
{"data":{"name":"ev"},"transform":[{"filter":"datum.p==6 && datum.k=='e'"}],"mark":{"type":"rule","color":"black","strokeWidth":1.6},"encoding":{"x":{"field":"t","type":"quantitative"},"y":{"datum":0.0071},"y2":{"datum":0.00006}}},
{"data":{"name":"ev"},"transform":[{"filter":"datum.p==6 && datum.k=='e'"}],"mark":{"type":"text","align":"left","baseline":"middle","dx":4,"fontSize":13.5},"encoding":{"x":{"field":"t","type":"quantitative"},"y":{"datum":0.0071},"text":{"field":"lab"}}},
{"data":{"values":[{"note":"GLE"}]},"mark":{"type":"text","font":"Lato","fontSize":40,"fontWeight":"bold","align":"center","baseline":"middle"},"encoding":{"x":{"datum":19.29},"y":{"datum":0.00305},"text":{"field":"note"}}},
{"data":{"name":"xl"},"transform":[{"filter":"datum.p==6"}],"mark":{"type":"text","align":"center","baseline":"middle","fontSize":14},"encoding":{"x":{"field":"t","type":"quantitative"},"y":{"datum":0.0000759},"text":{"field":"d"}}},
{"data":{"name":"xl"},"transform":[{"filter":"datum.p==6 && datum.m != ''"}],"mark":{"type":"text","align":"center","baseline":"middle","fontSize":14},"encoding":{"x":{"field":"t","type":"quantitative"},"y":{"datum":0.0000576},"text":{"field":"m"}}}
]},
{"data":{"name":"leg"},"mark":{"type":"text","align":"left","baseline":"middle","fontSize":13},"encoding":{"x":{"datum":15.2},"y":{"field":"s","type":"ordinal","scale":{"type":"point","domain":["P8","P9","P10","P11"],"range":[27,63],"padding":0},"axis":null},"text":{"field":"lab"},"color":{"field":"s","type":"nominal","legend":null}}}
],"resolve":{"scale":{"y":"independent"}}},

{"width":354,"height":307,"title":{"text":"GOES-13/HEPAD:  2013 April 9-14"},
"layer":[{"layer":[
{"data":{"name":"pts"},"transform":[{"filter":"datum.p==7"},{"fold":["P8","P9","P10","P11"],"as":["s","v"]}],"mark":{"type":"point","filled":true,"size":18,"opacity":1,"clip":true},"encoding":{"x":{"field":"t","type":"quantitative","scale":{"domain":[9.25,14.27],"nice":false,"zero":false},"axis":{"title":"Time","labels":false,"titlePadding":41,"values":[10,11,12,13,14,9.25,9.375,9.5,9.625,9.75,9.875,10.125,10.25,10.375,10.5,10.625,10.75,10.875,11.125,11.25,11.375,11.5,11.625,11.75,11.875,12.125,12.25,12.375,12.5,12.625,12.75,12.875,13.125,13.25,13.375,13.5,13.625,13.75,13.875,14.125,14.25],"tickSize":{"condition":{"test":"abs(datum.value - round(datum.value)) < 0.01","value":-9},"value":-5}}},"y":{"field":"v","type":"quantitative","scale":{"type":"log","domain":[0.0001,0.02],"nice":false},"axis":{"title":"Hourly-Averaged Proton Rates (uncorrected)","values":[0.0002,0.0003,0.0004,0.0005,0.0006,0.0007,0.0008,0.0009,0.001,0.002,0.003,0.004,0.005,0.006,0.007,0.008,0.009,0.01,0.02],"format":"~g","labelOverlap":false,"labelExpr":"indexof(['0.0002','0.0004','0.0006','0.0008','0.001','0.002','0.004','0.006','0.008','0.01','0.02'], datum.label) >= 0 ? datum.label : ''","tickSize":{"condition":{"test":"datum.value == 0.001 || datum.value == 0.01","value":-8},"value":-5},"labelPadding":13}},"color":{"field":"s","type":"nominal","legend":null},"shape":{"field":"s","type":"nominal","legend":null}}},
{"data":{"name":"base"},"transform":[{"filter":"datum.p==7"}],"mark":{"type":"rule","color":"black","strokeWidth":2,"strokeDash":[2,1]},"encoding":{"x":{"field":"t0","type":"quantitative"},"x2":{"field":"t1"},"y":{"field":"v","type":"quantitative"}}},
{"data":{"name":"ev"},"transform":[{"filter":"datum.p==7 && datum.k=='s'"}],"mark":{"type":"rule","color":"black","strokeWidth":1.6},"encoding":{"x":{"field":"t","type":"quantitative"},"y":{"datum":0.0136},"y2":{"datum":0.00006}}},
{"data":{"name":"ev"},"transform":[{"filter":"datum.p==7 && datum.k=='s'"}],"mark":{"type":"text","align":"left","baseline":"middle","dx":4,"fontSize":13.5},"encoding":{"x":{"field":"t","type":"quantitative"},"y":{"datum":0.0136},"text":{"field":"lab"}}},
{"data":{"name":"ev"},"transform":[{"filter":"datum.p==7 && datum.k=='e'"}],"mark":{"type":"rule","color":"black","strokeWidth":1.6},"encoding":{"x":{"field":"t","type":"quantitative"},"y":{"datum":0.0106},"y2":{"datum":0.00006}}},
{"data":{"name":"ev"},"transform":[{"filter":"datum.p==7 && datum.k=='e'"}],"mark":{"type":"text","align":"left","baseline":"middle","dx":4,"fontSize":13.5},"encoding":{"x":{"field":"t","type":"quantitative"},"y":{"datum":0.0104},"text":{"field":"lab"}}},
{"data":{"name":"xl"},"transform":[{"filter":"datum.p==7"}],"mark":{"type":"text","align":"center","baseline":"middle","fontSize":14},"encoding":{"x":{"field":"t","type":"quantitative"},"y":{"datum":0.0000759},"text":{"field":"d"}}},
{"data":{"name":"xl"},"transform":[{"filter":"datum.p==7 && datum.m != ''"}],"mark":{"type":"text","align":"center","baseline":"middle","fontSize":14},"encoding":{"x":{"field":"t","type":"quantitative"},"y":{"datum":0.0000576},"text":{"field":"m"}}}
]},
{"data":{"name":"leg"},"mark":{"type":"text","align":"left","baseline":"middle","fontSize":13},"encoding":{"x":{"datum":9.45},"y":{"field":"s","type":"ordinal","scale":{"type":"point","domain":["P8","P9","P10","P11"],"range":[27,63],"padding":0},"axis":null},"text":{"field":"lab"},"color":{"field":"s","type":"nominal","legend":null}}}
],"resolve":{"scale":{"y":"independent"}}},

{"width":354,"height":307,"title":{"text":"GOES-15/HEPAD:  2013 May 20-25"},
"layer":[{"layer":[
{"data":{"name":"pts"},"transform":[{"filter":"datum.p==8"},{"fold":["P8","P9","P10","P11"],"as":["s","v"]}],"mark":{"type":"point","filled":true,"size":18,"opacity":1,"clip":true},"encoding":{"x":{"field":"t","type":"quantitative","scale":{"domain":[21,26],"nice":false,"zero":false},"axis":{"title":"Time","labels":false,"titlePadding":41,"values":[21,21.125,21.25,21.375,21.5,21.625,21.75,21.875,22,22.125,22.25,22.375,22.5,22.625,22.75,22.875,23,23.125,23.25,23.375,23.5,23.625,23.75,23.875,24,24.125,24.25,24.375,24.5,24.625,24.75,24.875,25,25.125,25.25,25.375,25.5,25.625,25.75,25.875,26],"tickSize":{"condition":{"test":"abs(datum.value - round(datum.value)) < 0.01","value":-9},"value":-5}}},"y":{"field":"v","type":"quantitative","scale":{"type":"log","domain":[0.0001,0.02],"nice":false},"axis":{"title":"Hourly-Averaged Proton Rates (uncorrected)","values":[0.0002,0.0003,0.0004,0.0005,0.0006,0.0007,0.0008,0.0009,0.001,0.002,0.003,0.004,0.005,0.006,0.007,0.008,0.009,0.01,0.02],"format":"~g","labelOverlap":false,"labelExpr":"indexof(['0.0002','0.0004','0.0006','0.0008','0.001','0.002','0.004','0.006','0.008','0.01','0.02'], datum.label) >= 0 ? datum.label : ''","tickSize":{"condition":{"test":"datum.value == 0.001 || datum.value == 0.01","value":-8},"value":-5},"labelPadding":13}},"color":{"field":"s","type":"nominal","legend":null},"shape":{"field":"s","type":"nominal","legend":null}}},
{"data":{"name":"base"},"transform":[{"filter":"datum.p==8"}],"mark":{"type":"rule","color":"black","strokeWidth":2,"strokeDash":[2,1]},"encoding":{"x":{"field":"t0","type":"quantitative"},"x2":{"field":"t1"},"y":{"field":"v","type":"quantitative"}}},
{"data":{"name":"ev"},"transform":[{"filter":"datum.p==8 && datum.k=='s'"}],"mark":{"type":"rule","color":"black","strokeWidth":1.6},"encoding":{"x":{"field":"t","type":"quantitative"},"y":{"datum":0.0168},"y2":{"datum":0.00006}}},
{"data":{"name":"ev"},"transform":[{"filter":"datum.p==8 && datum.k=='s'"}],"mark":{"type":"text","align":"left","baseline":"middle","dx":4,"fontSize":13.5},"encoding":{"x":{"field":"t","type":"quantitative"},"y":{"datum":0.0161},"text":{"field":"lab"}}},
{"data":{"name":"ev"},"transform":[{"filter":"datum.p==8 && datum.k=='e'"}],"mark":{"type":"rule","color":"black","strokeWidth":1.6},"encoding":{"x":{"field":"t","type":"quantitative"},"y":{"datum":0.0091},"y2":{"datum":0.00006}}},
{"data":{"name":"ev"},"transform":[{"filter":"datum.p==8 && datum.k=='e'"}],"mark":{"type":"text","align":"left","baseline":"middle","dx":4,"fontSize":13.5},"encoding":{"x":{"field":"t","type":"quantitative"},"y":{"datum":0.0091},"text":{"field":"lab"}}},
{"data":{"name":"xl"},"transform":[{"filter":"datum.p==8"}],"mark":{"type":"text","align":"center","baseline":"middle","fontSize":14},"encoding":{"x":{"field":"t","type":"quantitative"},"y":{"datum":0.0000759},"text":{"field":"d"}}},
{"data":{"name":"xl"},"transform":[{"filter":"datum.p==8 && datum.m != ''"}],"mark":{"type":"text","align":"center","baseline":"middle","fontSize":14},"encoding":{"x":{"field":"t","type":"quantitative"},"y":{"datum":0.0000576},"text":{"field":"m"}}}
]},
{"data":{"name":"leg"},"mark":{"type":"text","align":"left","baseline":"middle","fontSize":13},"encoding":{"x":{"datum":21.2},"y":{"field":"s","type":"ordinal","scale":{"type":"point","domain":["P8","P9","P10","P11"],"range":[27,63],"padding":0},"axis":null},"text":{"field":"lab"},"color":{"field":"s","type":"nominal","legend":null}}}
],"resolve":{"scale":{"y":"independent"}}},

{"width":354,"height":307,"title":{"text":"GOES-13/HEPAD:  2014 January 4-9"},
"layer":[{"layer":[
{"data":{"name":"pts"},"transform":[{"filter":"datum.p==9"},{"fold":["P8","P9","P10","P11"],"as":["s","v"]}],"mark":{"type":"point","filled":true,"size":18,"opacity":1,"clip":true},"encoding":{"x":{"field":"t","type":"quantitative","scale":{"domain":[4,9],"nice":false,"zero":false},"axis":{"title":"Time","labels":false,"titlePadding":41,"values":[4,4.125,4.25,4.375,4.5,4.625,4.75,4.875,5,5.125,5.25,5.375,5.5,5.625,5.75,5.875,6,6.125,6.25,6.375,6.5,6.625,6.75,6.875,7,7.125,7.25,7.375,7.5,7.625,7.75,7.875,8,8.125,8.25,8.375,8.5,8.625,8.75,8.875,9],"tickSize":{"condition":{"test":"abs(datum.value - round(datum.value)) < 0.01","value":-9},"value":-5}}},"y":{"field":"v","type":"quantitative","scale":{"type":"log","domain":[0.0001,0.02],"nice":false},"axis":{"title":"Hourly-Averaged Proton Rates (uncorrected)","values":[0.0002,0.0003,0.0004,0.0005,0.0006,0.0007,0.0008,0.0009,0.001,0.002,0.003,0.004,0.005,0.006,0.007,0.008,0.009,0.01,0.02],"format":"~g","labelOverlap":false,"labelExpr":"indexof(['0.0002','0.0004','0.0006','0.0008','0.001','0.002','0.004','0.006','0.008','0.01','0.02'], datum.label) >= 0 ? datum.label : ''","tickSize":{"condition":{"test":"datum.value == 0.001 || datum.value == 0.01","value":-8},"value":-5},"labelPadding":13}},"color":{"field":"s","type":"nominal","legend":null},"shape":{"field":"s","type":"nominal","legend":null}}},
{"data":{"name":"base"},"transform":[{"filter":"datum.p==9"}],"mark":{"type":"rule","color":"black","strokeWidth":2,"strokeDash":[2,1]},"encoding":{"x":{"field":"t0","type":"quantitative"},"x2":{"field":"t1"},"y":{"field":"v","type":"quantitative"}}},
{"data":{"name":"ev"},"transform":[{"filter":"datum.p==9 && datum.k=='s'"}],"mark":{"type":"rule","color":"black","strokeWidth":1.6},"encoding":{"x":{"field":"t","type":"quantitative"},"y":{"datum":0.0129},"y2":{"datum":0.00006}}},
{"data":{"name":"ev"},"transform":[{"filter":"datum.p==9 && datum.k=='s'"}],"mark":{"type":"text","align":"left","baseline":"middle","dx":4,"fontSize":13.5},"encoding":{"x":{"field":"t","type":"quantitative"},"y":{"datum":0.0129},"text":{"field":"lab"}}},
{"data":{"name":"ev"},"transform":[{"filter":"datum.p==9 && datum.k=='e'"}],"mark":{"type":"rule","color":"black","strokeWidth":1.6},"encoding":{"x":{"field":"t","type":"quantitative"},"y":{"datum":0.0104},"y2":{"datum":0.00006}}},
{"data":{"name":"ev"},"transform":[{"filter":"datum.p==9 && datum.k=='e'"}],"mark":{"type":"text","align":"left","baseline":"middle","dx":4,"fontSize":13.5},"encoding":{"x":{"field":"t","type":"quantitative"},"y":{"datum":0.0104},"text":{"field":"lab"}}},
{"data":{"name":"xl"},"transform":[{"filter":"datum.p==9"}],"mark":{"type":"text","align":"center","baseline":"middle","fontSize":14},"encoding":{"x":{"field":"t","type":"quantitative"},"y":{"datum":0.0000759},"text":{"field":"d"}}},
{"data":{"name":"xl"},"transform":[{"filter":"datum.p==9 && datum.m != ''"}],"mark":{"type":"text","align":"center","baseline":"middle","fontSize":14},"encoding":{"x":{"field":"t","type":"quantitative"},"y":{"datum":0.0000576},"text":{"field":"m"}}}
]},
{"data":{"name":"leg"},"mark":{"type":"text","align":"left","baseline":"middle","fontSize":13},"encoding":{"x":{"datum":4.2},"y":{"field":"s","type":"ordinal","scale":{"type":"point","domain":["P8","P9","P10","P11"],"range":[27,63],"padding":0},"axis":null},"text":{"field":"lab"},"color":{"field":"s","type":"nominal","legend":null}}}
],"resolve":{"scale":{"y":"independent"}}},

{"width":354,"height":307,"title":{"text":"GOES-13/HEPAD:  2014 January 6-11"},
"layer":[{"layer":[
{"data":{"name":"pts"},"transform":[{"filter":"datum.p==10"},{"fold":["P8","P9","P10","P11"],"as":["s","v"]}],"mark":{"type":"point","filled":true,"size":18,"opacity":1,"clip":true},"encoding":{"x":{"field":"t","type":"quantitative","scale":{"domain":[6,11],"nice":false,"zero":false},"axis":{"title":"Time","labels":false,"titlePadding":41,"values":[6,6.125,6.25,6.375,6.5,6.625,6.75,6.875,7,7.125,7.25,7.375,7.5,7.625,7.75,7.875,8,8.125,8.25,8.375,8.5,8.625,8.75,8.875,9,9.125,9.25,9.375,9.5,9.625,9.75,9.875,10,10.125,10.25,10.375,10.5,10.625,10.75,10.875,11],"tickSize":{"condition":{"test":"abs(datum.value - round(datum.value)) < 0.01","value":-9},"value":-5}}},"y":{"field":"v","type":"quantitative","scale":{"type":"log","domain":[0.0001,0.02],"nice":false},"axis":{"title":"Hourly-Averaged Proton Rates (uncorrected)","values":[0.0002,0.0003,0.0004,0.0005,0.0006,0.0007,0.0008,0.0009,0.001,0.002,0.003,0.004,0.005,0.006,0.007,0.008,0.009,0.01,0.02],"format":"~g","labelOverlap":false,"labelExpr":"indexof(['0.0002','0.0004','0.0006','0.0008','0.001','0.002','0.004','0.006','0.008','0.01','0.02'], datum.label) >= 0 ? datum.label : ''","tickSize":{"condition":{"test":"datum.value == 0.001 || datum.value == 0.01","value":-8},"value":-5},"labelPadding":13}},"color":{"field":"s","type":"nominal","legend":null},"shape":{"field":"s","type":"nominal","legend":null}}},
{"data":{"name":"base"},"transform":[{"filter":"datum.p==10"}],"mark":{"type":"rule","color":"black","strokeWidth":2,"strokeDash":[2,1]},"encoding":{"x":{"field":"t0","type":"quantitative"},"x2":{"field":"t1"},"y":{"field":"v","type":"quantitative"}}},
{"data":{"name":"ev"},"transform":[{"filter":"datum.p==10 && datum.k=='s'"}],"mark":{"type":"rule","color":"black","strokeWidth":1.6},"encoding":{"x":{"field":"t","type":"quantitative"},"y":{"datum":0.0112},"y2":{"datum":0.00006}}},
{"data":{"name":"ev"},"transform":[{"filter":"datum.p==10 && datum.k=='s'"}],"mark":{"type":"text","align":"left","baseline":"middle","dx":4,"fontSize":13.5},"encoding":{"x":{"field":"t","type":"quantitative"},"y":{"datum":0.0104},"text":{"field":"lab"}}},
{"data":{"name":"ev"},"transform":[{"filter":"datum.p==10 && datum.k=='e'"}],"mark":{"type":"rule","color":"black","strokeWidth":1.6},"encoding":{"x":{"field":"t","type":"quantitative"},"y":{"datum":0.0104},"y2":{"datum":0.00006}}},
{"data":{"name":"ev"},"transform":[{"filter":"datum.p==10 && datum.k=='e'"}],"mark":{"type":"text","align":"left","baseline":"middle","dx":4,"fontSize":13.5},"encoding":{"x":{"field":"t","type":"quantitative"},"y":{"datum":0.0104},"text":{"field":"lab"}}},
{"data":{"name":"xl"},"transform":[{"filter":"datum.p==10"}],"mark":{"type":"text","align":"center","baseline":"middle","fontSize":14},"encoding":{"x":{"field":"t","type":"quantitative"},"y":{"datum":0.0000759},"text":{"field":"d"}}},
{"data":{"name":"xl"},"transform":[{"filter":"datum.p==10 && datum.m != ''"}],"mark":{"type":"text","align":"center","baseline":"middle","fontSize":14},"encoding":{"x":{"field":"t","type":"quantitative"},"y":{"datum":0.0000576},"text":{"field":"m"}}}
]},
{"data":{"name":"leg"},"mark":{"type":"text","align":"left","baseline":"middle","fontSize":13},"encoding":{"x":{"datum":6.2},"y":{"field":"s","type":"ordinal","scale":{"type":"point","domain":["P8","P9","P10","P11"],"range":[27,63],"padding":0},"axis":null},"text":{"field":"lab"},"color":{"field":"s","type":"nominal","legend":null}}}
],"resolve":{"scale":{"y":"independent"}}},

{"width":354,"height":307,"title":{"text":"GOES-13/HEPAD:  2014 February 23-28"},
"layer":[{"layer":[
{"data":{"name":"pts"},"transform":[{"filter":"datum.p==11"},{"fold":["P8","P9","P10","P11"],"as":["s","v"]}],"mark":{"type":"point","filled":true,"size":18,"opacity":1,"clip":true},"encoding":{"x":{"field":"t","type":"quantitative","scale":{"domain":[23,28],"nice":false,"zero":false},"axis":{"title":"Time","labels":false,"titlePadding":41,"values":[23,23.125,23.25,23.375,23.5,23.625,23.75,23.875,24,24.125,24.25,24.375,24.5,24.625,24.75,24.875,25,25.125,25.25,25.375,25.5,25.625,25.75,25.875,26,26.125,26.25,26.375,26.5,26.625,26.75,26.875,27,27.125,27.25,27.375,27.5,27.625,27.75,27.875,28],"tickSize":{"condition":{"test":"abs(datum.value - round(datum.value)) < 0.01","value":-9},"value":-5}}},"y":{"field":"v","type":"quantitative","scale":{"type":"log","domain":[0.0001,0.02],"nice":false},"axis":{"title":"Hourly-Averaged Proton Rates (uncorrected)","values":[0.0002,0.0003,0.0004,0.0005,0.0006,0.0007,0.0008,0.0009,0.001,0.002,0.003,0.004,0.005,0.006,0.007,0.008,0.009,0.01,0.02],"format":"~g","labelOverlap":false,"labelExpr":"indexof(['0.0002','0.0004','0.0006','0.0008','0.001','0.002','0.004','0.006','0.008','0.01','0.02'], datum.label) >= 0 ? datum.label : ''","tickSize":{"condition":{"test":"datum.value == 0.001 || datum.value == 0.01","value":-8},"value":-5},"labelPadding":13}},"color":{"field":"s","type":"nominal","legend":null},"shape":{"field":"s","type":"nominal","legend":null}}},
{"data":{"name":"base"},"transform":[{"filter":"datum.p==11"}],"mark":{"type":"rule","color":"black","strokeWidth":2,"strokeDash":[2,1]},"encoding":{"x":{"field":"t0","type":"quantitative"},"x2":{"field":"t1"},"y":{"field":"v","type":"quantitative"}}},
{"data":{"name":"ev"},"transform":[{"filter":"datum.p==11 && datum.k=='s'"}],"mark":{"type":"rule","color":"black","strokeWidth":1.6},"encoding":{"x":{"field":"t","type":"quantitative"},"y":{"datum":0.0131},"y2":{"datum":0.00006}}},
{"data":{"name":"ev"},"transform":[{"filter":"datum.p==11 && datum.k=='s'"}],"mark":{"type":"text","align":"left","baseline":"middle","dx":4,"fontSize":13.5},"encoding":{"x":{"field":"t","type":"quantitative"},"y":{"datum":0.0131},"text":{"field":"lab"}}},
{"data":{"name":"ev"},"transform":[{"filter":"datum.p==11 && datum.k=='e'"}],"mark":{"type":"rule","color":"black","strokeWidth":1.6},"encoding":{"x":{"field":"t","type":"quantitative"},"y":{"datum":0.0106},"y2":{"datum":0.00006}}},
{"data":{"name":"ev"},"transform":[{"filter":"datum.p==11 && datum.k=='e'"}],"mark":{"type":"text","align":"left","baseline":"middle","dx":4,"fontSize":13.5},"encoding":{"x":{"field":"t","type":"quantitative"},"y":{"datum":0.0106},"text":{"field":"lab"}}},
{"data":{"name":"xl"},"transform":[{"filter":"datum.p==11"}],"mark":{"type":"text","align":"center","baseline":"middle","fontSize":14},"encoding":{"x":{"field":"t","type":"quantitative"},"y":{"datum":0.0000759},"text":{"field":"d"}}},
{"data":{"name":"xl"},"transform":[{"filter":"datum.p==11 && datum.m != ''"}],"mark":{"type":"text","align":"center","baseline":"middle","fontSize":14},"encoding":{"x":{"field":"t","type":"quantitative"},"y":{"datum":0.0000576},"text":{"field":"m"}}}
]},
{"data":{"name":"leg"},"mark":{"type":"text","align":"left","baseline":"middle","fontSize":13},"encoding":{"x":{"datum":23.2},"y":{"field":"s","type":"ordinal","scale":{"type":"point","domain":["P8","P9","P10","P11"],"range":[27,63],"padding":0},"axis":null},"text":{"field":"lab"},"color":{"field":"s","type":"nominal","legend":null}}}
],"resolve":{"scale":{"y":"independent"}}},

{"width":354,"height":307,"view":{"stroke":null},
"data":{"values":[{"txt":["All of these events","also observed by","AMS-02, plus at","least 7 more."]}]},
"mark":{"type":"text","align":"left","baseline":"alphabetic","font":"Open Sans","fontSize":42,"fontWeight":"bold","fontStyle":"italic","lineHeight":57.5,"color":"black"},
"encoding":{"text":{"field":"txt","type":"nominal"},"x":{"datum":-0.11,"type":"quantitative","scale":{"domain":[0,1]},"axis":null},"y":{"datum":0.797,"type":"quantitative","scale":{"domain":[0,1]},"axis":null}}}
],
"config": {
"view": {"stroke": "black", "strokeWidth": 2},
"font": "Liberation Sans",
"axis": {"labelFont": "Liberation Sans", "labelFontSize": 14, "labelColor": "black", "titleFont": "Liberation Sans", "titleFontSize": 13, "titleFontWeight": "normal", "titleColor": "black", "tickColor": "black", "tickWidth": 1.3, "domain": false, "grid": false, "labelFlush": false, "labelOverlap": false, "labelBound": false},
"axisY": {"titlePadding": 6},
"title": {"font": "Liberation Sans", "fontSize": 14, "fontWeight": "normal", "anchor": "start", "frame": "group", "dx": 9, "offset": 3, "color": "black"},
"text": {"font": "Liberation Sans", "fontSize": 13, "color": "black"},
"range": {"category": ["#b3171c", "#44d41a", "#1b3d96", "#f5870b"], "symbol": ["square", "circle", "circle", "circle"]}
}
}
